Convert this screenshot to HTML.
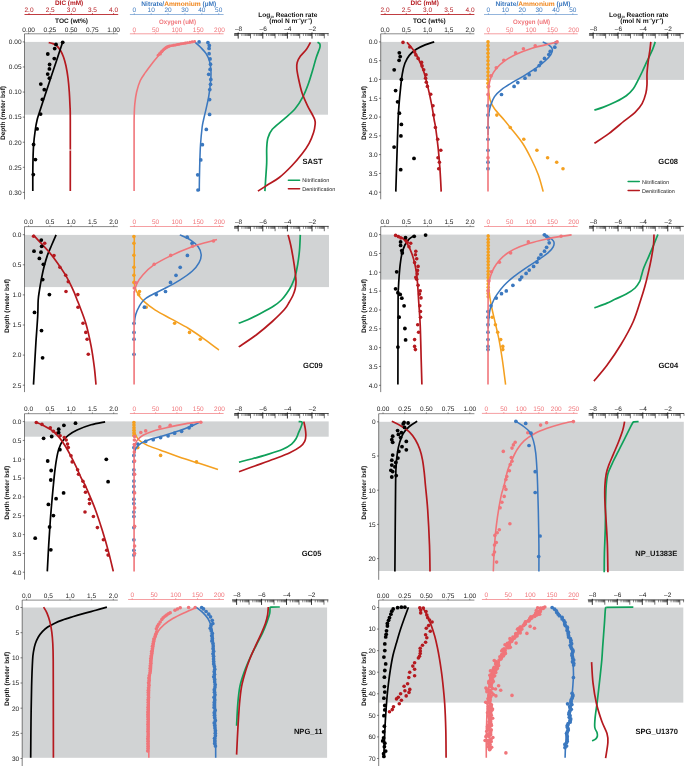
<!DOCTYPE html>
<html><head><meta charset="utf-8"><title>Figure</title>
<style>
html,body{margin:0;padding:0;background:#fff;}
body{width:685px;height:766px;overflow:hidden;}
svg{display:block;font-family:"Liberation Sans",sans-serif;will-change:transform;text-rendering:geometricPrecision;}
</style></head><body>
<svg width="685" height="766" viewBox="0 0 685 766">
<rect width="685" height="766" fill="#fff"/>
<text x="69.1" y="5.3" fill="#b5191f" font-size="6.5" text-anchor="middle" font-weight="bold" textLength="28.3" lengthAdjust="spacingAndGlyphs">DIC (mM)</text>
<line x1="24.5" y1="14.5" x2="118.2" y2="14.5" stroke="#b5191f" stroke-width="0.85"/>
<line x1="29" y1="13.2" x2="29" y2="14.5" stroke="#b5191f" stroke-width="0.85"/>
<text x="29" y="12.2" fill="#b5191f" font-size="6.5" text-anchor="middle">2.0</text>
<line x1="50.15" y1="13.2" x2="50.15" y2="14.5" stroke="#b5191f" stroke-width="0.85"/>
<text x="50.15" y="12.2" fill="#b5191f" font-size="6.5" text-anchor="middle">2.5</text>
<line x1="71.3" y1="13.2" x2="71.3" y2="14.5" stroke="#b5191f" stroke-width="0.85"/>
<text x="71.3" y="12.2" fill="#b5191f" font-size="6.5" text-anchor="middle">3.0</text>
<line x1="92.45" y1="13.2" x2="92.45" y2="14.5" stroke="#b5191f" stroke-width="0.85"/>
<text x="92.45" y="12.2" fill="#b5191f" font-size="6.5" text-anchor="middle">3.5</text>
<line x1="113.6" y1="13.2" x2="113.6" y2="14.5" stroke="#b5191f" stroke-width="0.85"/>
<text x="113.6" y="12.2" fill="#b5191f" font-size="6.5" text-anchor="middle">4.0</text>
<text x="71.5" y="23.2" fill="#111" font-size="6.5" text-anchor="middle" font-weight="bold" textLength="33" lengthAdjust="spacingAndGlyphs">TOC (wt%)</text>
<text x="178.8" y="5.6" font-size="6.5" font-weight="bold" text-anchor="middle" textLength="75" lengthAdjust="spacingAndGlyphs"><tspan fill="#3b78bf">Nitrate/</tspan><tspan fill="#ef851b">Ammonium</tspan><tspan fill="#3b78bf"> (µM)</tspan></text>
<line x1="129.9" y1="14.5" x2="223.6" y2="14.5" stroke="#3b78bf" stroke-width="0.55"/>
<line x1="134.3" y1="13.2" x2="134.3" y2="14.5" stroke="#3b78bf" stroke-width="0.55"/>
<text x="134.3" y="12.2" fill="#3b78bf" font-size="6.5" text-anchor="middle">0</text>
<line x1="151.18" y1="13.2" x2="151.18" y2="14.5" stroke="#3b78bf" stroke-width="0.55"/>
<text x="151.18" y="12.2" fill="#3b78bf" font-size="6.5" text-anchor="middle">10</text>
<line x1="168.06" y1="13.2" x2="168.06" y2="14.5" stroke="#3b78bf" stroke-width="0.55"/>
<text x="168.06" y="12.2" fill="#3b78bf" font-size="6.5" text-anchor="middle">20</text>
<line x1="184.94" y1="13.2" x2="184.94" y2="14.5" stroke="#3b78bf" stroke-width="0.55"/>
<text x="184.94" y="12.2" fill="#3b78bf" font-size="6.5" text-anchor="middle">30</text>
<line x1="201.82" y1="13.2" x2="201.82" y2="14.5" stroke="#3b78bf" stroke-width="0.55"/>
<text x="201.82" y="12.2" fill="#3b78bf" font-size="6.5" text-anchor="middle">40</text>
<line x1="218.7" y1="13.2" x2="218.7" y2="14.5" stroke="#3b78bf" stroke-width="0.55"/>
<text x="218.7" y="12.2" fill="#3b78bf" font-size="6.5" text-anchor="middle">50</text>
<text x="177.5" y="23.5" fill="#f0757a" font-size="6.5" text-anchor="middle" font-weight="bold" textLength="37" lengthAdjust="spacingAndGlyphs">Oxygen (uM)</text>
<text x="258.3" y="16.6" fill="#111" font-size="6.5" font-weight="bold" textLength="59" lengthAdjust="spacingAndGlyphs">Log<tspan font-size="3.2" dy="1.2">10</tspan><tspan dy="-1.2"> Reaction rate</tspan></text>
<text x="269.3" y="23.2" fill="#111" font-size="6.5" font-weight="bold" textLength="42.8" lengthAdjust="spacingAndGlyphs">(mol N m<tspan font-size="2.8" dy="-2.8">–3</tspan><tspan dy="2.8">yr</tspan><tspan font-size="2.8" dy="-2.8">–1</tspan><tspan dy="2.8">)</tspan></text>
<text x="424.7" y="5.3" fill="#b5191f" font-size="6.5" text-anchor="middle" font-weight="bold" textLength="28.3" lengthAdjust="spacingAndGlyphs">DIC (mM)</text>
<line x1="380.7" y1="14.5" x2="474.4" y2="14.5" stroke="#b5191f" stroke-width="0.85"/>
<line x1="385" y1="13.2" x2="385" y2="14.5" stroke="#b5191f" stroke-width="0.85"/>
<text x="385" y="12.2" fill="#b5191f" font-size="6.5" text-anchor="middle">2.0</text>
<line x1="406.25" y1="13.2" x2="406.25" y2="14.5" stroke="#b5191f" stroke-width="0.85"/>
<text x="406.25" y="12.2" fill="#b5191f" font-size="6.5" text-anchor="middle">2.5</text>
<line x1="427.5" y1="13.2" x2="427.5" y2="14.5" stroke="#b5191f" stroke-width="0.85"/>
<text x="427.5" y="12.2" fill="#b5191f" font-size="6.5" text-anchor="middle">3.0</text>
<line x1="448.75" y1="13.2" x2="448.75" y2="14.5" stroke="#b5191f" stroke-width="0.85"/>
<text x="448.75" y="12.2" fill="#b5191f" font-size="6.5" text-anchor="middle">3.5</text>
<line x1="470" y1="13.2" x2="470" y2="14.5" stroke="#b5191f" stroke-width="0.85"/>
<text x="470" y="12.2" fill="#b5191f" font-size="6.5" text-anchor="middle">4.0</text>
<text x="429.3" y="23.2" fill="#111" font-size="6.5" text-anchor="middle" font-weight="bold" textLength="32.6" lengthAdjust="spacingAndGlyphs">TOC (wt%)</text>
<text x="532.9" y="5.6" font-size="6.5" font-weight="bold" text-anchor="middle" textLength="75" lengthAdjust="spacingAndGlyphs"><tspan fill="#3b78bf">Nitrate/</tspan><tspan fill="#ef851b">Ammonium</tspan><tspan fill="#3b78bf"> (µM)</tspan></text>
<line x1="484" y1="14.5" x2="577.7" y2="14.5" stroke="#3b78bf" stroke-width="0.55"/>
<line x1="488.4" y1="13.2" x2="488.4" y2="14.5" stroke="#3b78bf" stroke-width="0.55"/>
<text x="488.4" y="12.2" fill="#3b78bf" font-size="6.5" text-anchor="middle">0</text>
<line x1="505.28" y1="13.2" x2="505.28" y2="14.5" stroke="#3b78bf" stroke-width="0.55"/>
<text x="505.28" y="12.2" fill="#3b78bf" font-size="6.5" text-anchor="middle">10</text>
<line x1="522.16" y1="13.2" x2="522.16" y2="14.5" stroke="#3b78bf" stroke-width="0.55"/>
<text x="522.16" y="12.2" fill="#3b78bf" font-size="6.5" text-anchor="middle">20</text>
<line x1="539.04" y1="13.2" x2="539.04" y2="14.5" stroke="#3b78bf" stroke-width="0.55"/>
<text x="539.04" y="12.2" fill="#3b78bf" font-size="6.5" text-anchor="middle">30</text>
<line x1="555.92" y1="13.2" x2="555.92" y2="14.5" stroke="#3b78bf" stroke-width="0.55"/>
<text x="555.92" y="12.2" fill="#3b78bf" font-size="6.5" text-anchor="middle">40</text>
<line x1="572.8" y1="13.2" x2="572.8" y2="14.5" stroke="#3b78bf" stroke-width="0.55"/>
<text x="572.8" y="12.2" fill="#3b78bf" font-size="6.5" text-anchor="middle">50</text>
<text x="531.6" y="23.5" fill="#f0757a" font-size="6.5" text-anchor="middle" font-weight="bold" textLength="37" lengthAdjust="spacingAndGlyphs">Oxygen (uM)</text>
<text x="609.1" y="16.6" fill="#111" font-size="6.5" font-weight="bold" textLength="59.3" lengthAdjust="spacingAndGlyphs">Log<tspan font-size="3.2" dy="1.2">10</tspan><tspan dy="-1.2"> Reaction rate</tspan></text>
<text x="620.2" y="23.2" fill="#111" font-size="6.5" font-weight="bold" textLength="43.3" lengthAdjust="spacingAndGlyphs">(mol N m<tspan font-size="2.8" dy="-2.8">–3</tspan><tspan dy="2.8">yr</tspan><tspan font-size="2.8" dy="-2.8">–1</tspan><tspan dy="2.8">)</tspan></text>
<rect x="24.5" y="41.9" width="303.5" height="72.8" fill="#d1d3d4"/>
<line x1="24.5" y1="33.8" x2="117.8" y2="33.8" stroke="#2a2a2a" stroke-width="0.55"/>
<line x1="28.6" y1="32.5" x2="28.6" y2="33.8" stroke="#2a2a2a" stroke-width="0.55"/>
<text x="28.6" y="31.5" fill="#1a1a1a" font-size="6.5" text-anchor="middle">0.00</text>
<line x1="49.85" y1="32.5" x2="49.85" y2="33.8" stroke="#2a2a2a" stroke-width="0.55"/>
<text x="49.85" y="31.5" fill="#1a1a1a" font-size="6.5" text-anchor="middle">0.25</text>
<line x1="71.1" y1="32.5" x2="71.1" y2="33.8" stroke="#2a2a2a" stroke-width="0.55"/>
<text x="71.1" y="31.5" fill="#1a1a1a" font-size="6.5" text-anchor="middle">0.50</text>
<line x1="92.35" y1="32.5" x2="92.35" y2="33.8" stroke="#2a2a2a" stroke-width="0.55"/>
<text x="92.35" y="31.5" fill="#1a1a1a" font-size="6.5" text-anchor="middle">0.75</text>
<line x1="113.6" y1="32.5" x2="113.6" y2="33.8" stroke="#2a2a2a" stroke-width="0.55"/>
<text x="113.6" y="31.5" fill="#1a1a1a" font-size="6.5" text-anchor="middle">1.00</text>
<line x1="129.9" y1="33.8" x2="223.6" y2="33.8" stroke="#f0757a" stroke-width="0.7"/>
<line x1="134.3" y1="32.5" x2="134.3" y2="33.8" stroke="#f0757a" stroke-width="0.7"/>
<text x="134.3" y="31.5" fill="#f0757a" font-size="6.5" text-anchor="middle">0</text>
<line x1="155.6" y1="32.5" x2="155.6" y2="33.8" stroke="#f0757a" stroke-width="0.7"/>
<text x="155.6" y="31.5" fill="#f0757a" font-size="6.5" text-anchor="middle">50</text>
<line x1="176.9" y1="32.5" x2="176.9" y2="33.8" stroke="#f0757a" stroke-width="0.7"/>
<text x="176.9" y="31.5" fill="#f0757a" font-size="6.5" text-anchor="middle">100</text>
<line x1="198.2" y1="32.5" x2="198.2" y2="33.8" stroke="#f0757a" stroke-width="0.7"/>
<text x="198.2" y="31.5" fill="#f0757a" font-size="6.5" text-anchor="middle">150</text>
<line x1="219.5" y1="32.5" x2="219.5" y2="33.8" stroke="#f0757a" stroke-width="0.7"/>
<text x="219.5" y="31.5" fill="#f0757a" font-size="6.5" text-anchor="middle">200</text>
<line x1="234.4" y1="33.6" x2="328.7" y2="33.6" stroke="#000" stroke-width="0.7"/>
<path d="M238.2 32.5v6.1M262.8 32.5v6.1M287.4 32.5v6.1M312 32.5v6.1" stroke="#000" stroke-width="0.8" fill="none"/>
<path d="M250.5 33.6v4.8M275.1 33.6v4.8M299.7 33.6v4.8M324.3 33.6v4.8" stroke="#333" stroke-width="0.7" fill="none"/>
<path d="M234.5 33.6v2.4M235.47 33.6v2.4M236.29 33.6v2.4M237.01 33.6v2.4M237.64 33.6v2.4M241.9 33.6v2.4M244.07 33.6v2.4M245.61 33.6v2.4M246.8 33.6v2.4M247.77 33.6v2.4M248.59 33.6v2.4M249.31 33.6v2.4M249.94 33.6v2.4M254.2 33.6v2.4M256.37 33.6v2.4M257.91 33.6v2.4M259.1 33.6v2.4M260.07 33.6v2.4M260.89 33.6v2.4M261.61 33.6v2.4M262.24 33.6v2.4M266.5 33.6v2.4M268.67 33.6v2.4M270.21 33.6v2.4M271.4 33.6v2.4M272.37 33.6v2.4M273.19 33.6v2.4M273.91 33.6v2.4M274.54 33.6v2.4M278.8 33.6v2.4M280.97 33.6v2.4M282.51 33.6v2.4M283.7 33.6v2.4M284.67 33.6v2.4M285.49 33.6v2.4M286.21 33.6v2.4M286.84 33.6v2.4M291.1 33.6v2.4M293.27 33.6v2.4M294.81 33.6v2.4M296 33.6v2.4M296.97 33.6v2.4M297.79 33.6v2.4M298.51 33.6v2.4M299.14 33.6v2.4M303.4 33.6v2.4M305.57 33.6v2.4M307.11 33.6v2.4M308.3 33.6v2.4M309.27 33.6v2.4M310.09 33.6v2.4M310.81 33.6v2.4M311.44 33.6v2.4M315.7 33.6v2.4M317.87 33.6v2.4M319.41 33.6v2.4M320.6 33.6v2.4M321.57 33.6v2.4M322.39 33.6v2.4M323.11 33.6v2.4M323.74 33.6v2.4M328 33.6v2.4" stroke="#111" stroke-width="0.5" fill="none"/>
<text x="238.6" y="30.8" fill="#1a1a1a" font-size="6.5" text-anchor="middle">–8</text>
<text x="263.2" y="30.8" fill="#1a1a1a" font-size="6.5" text-anchor="middle">–6</text>
<text x="287.8" y="30.8" fill="#1a1a1a" font-size="6.5" text-anchor="middle">–4</text>
<text x="312.4" y="30.8" fill="#1a1a1a" font-size="6.5" text-anchor="middle">–2</text>
<line x1="24.5" y1="33.8" x2="24.5" y2="199.3" stroke="#2a2a2a" stroke-width="0.6"/>
<line x1="22.8" y1="41.9" x2="24.5" y2="41.9" stroke="#2a2a2a" stroke-width="0.6"/>
<text x="21.5" y="44.25" fill="#1a1a1a" font-size="6.5" text-anchor="end">0.00</text>
<line x1="22.8" y1="66.98" x2="24.5" y2="66.98" stroke="#2a2a2a" stroke-width="0.6"/>
<text x="21.5" y="69.33" fill="#1a1a1a" font-size="6.5" text-anchor="end">0.05</text>
<line x1="22.8" y1="92.06" x2="24.5" y2="92.06" stroke="#2a2a2a" stroke-width="0.6"/>
<text x="21.5" y="94.41" fill="#1a1a1a" font-size="6.5" text-anchor="end">0.10</text>
<line x1="22.8" y1="117.14" x2="24.5" y2="117.14" stroke="#2a2a2a" stroke-width="0.6"/>
<text x="21.5" y="119.49" fill="#1a1a1a" font-size="6.5" text-anchor="end">0.15</text>
<line x1="22.8" y1="142.22" x2="24.5" y2="142.22" stroke="#2a2a2a" stroke-width="0.6"/>
<text x="21.5" y="144.57" fill="#1a1a1a" font-size="6.5" text-anchor="end">0.20</text>
<line x1="22.8" y1="167.3" x2="24.5" y2="167.3" stroke="#2a2a2a" stroke-width="0.6"/>
<text x="21.5" y="169.65" fill="#1a1a1a" font-size="6.5" text-anchor="end">0.25</text>
<line x1="22.8" y1="192.38" x2="24.5" y2="192.38" stroke="#2a2a2a" stroke-width="0.6"/>
<text x="21.5" y="194.73" fill="#1a1a1a" font-size="6.5" text-anchor="end">0.30</text>
<text transform="translate(5.2 113) rotate(-90)" fill="#111" font-size="6.5" font-weight="bold" text-anchor="middle" textLength="54" lengthAdjust="spacingAndGlyphs">Depth (meter bsf)</text>
<path d="M48.7 42.6C49.42 42.77 51.62 43.03 53 43.6C54.38 44.17 55.75 44.85 57 46C58.25 47.15 59.42 48.67 60.5 50.5C61.58 52.33 62.58 54.42 63.5 57C64.42 59.58 65.25 62.5 66 66C66.75 69.5 67.45 73.67 68 78C68.55 82.33 68.97 87.33 69.3 92C69.63 96.67 69.83 101.33 70 106C70.17 110.67 70.25 105.83 70.3 120C70.35 134.17 70.3 179.17 70.3 191" fill="none" stroke="#b5191f" stroke-width="1.7" stroke-linecap="butt" stroke-linejoin="round"/>
<rect x="69" y="149.6" width="2.6" height="0.9" fill="#fff"/>
<path d="M62.7 41.9C61.6 45.25 58.32 55.32 56.1 62C53.88 68.68 51.62 75.33 49.4 82C47.18 88.67 44.5 96.83 42.8 102C41.1 107.17 40.15 110 39.2 113C38.25 116 37.73 117.33 37.1 120C36.47 122.67 35.98 124.83 35.4 129C34.82 133.17 34 139.83 33.6 145C33.2 150.17 33.13 155 33 160C32.87 165 32.83 169.83 32.8 175C32.77 180.17 32.8 188.33 32.8 191" fill="none" stroke="#000" stroke-width="1.7" stroke-linecap="butt" stroke-linejoin="round"/>
<g fill="#000"><circle cx="62.7" cy="42.3" r="1.9"/><circle cx="56" cy="44.4" r="1.9"/><circle cx="54.7" cy="48.6" r="1.9"/><circle cx="47.8" cy="54" r="1.9"/><circle cx="54.3" cy="58.6" r="1.9"/><circle cx="49.6" cy="64.5" r="1.9"/><circle cx="49.4" cy="68.9" r="1.9"/><circle cx="47.7" cy="74.1" r="1.9"/><circle cx="49.4" cy="78.2" r="1.9"/><circle cx="40.8" cy="84.1" r="1.9"/><circle cx="44.3" cy="89.7" r="1.9"/><circle cx="42.4" cy="99.4" r="1.9"/><circle cx="40.6" cy="114.1" r="1.9"/><circle cx="37.1" cy="128.9" r="1.9"/><circle cx="33.6" cy="144.5" r="1.9"/><circle cx="35.4" cy="159.6" r="1.9"/><circle cx="33.3" cy="174.6" r="1.9"/></g>
<path d="M194.7 41.9C195.72 42.83 198.9 45.53 200.8 47.5C202.7 49.47 204.63 51.37 206.1 53.7C207.57 56.03 208.78 58.45 209.6 61.5C210.42 64.55 210.85 68.48 211 72C211.15 75.52 210.88 78.5 210.5 82.6C210.12 86.7 209.43 92.23 208.7 96.6C207.97 100.97 206.97 104.9 206.1 108.8C205.23 112.7 204.17 116.88 203.5 120C202.83 123.12 202.6 123.33 202.1 127.5C201.6 131.67 200.88 139.15 200.5 145C200.12 150.85 199.98 156.77 199.8 162.6C199.62 168.43 199.48 175.28 199.4 180C199.32 184.72 199.32 189.08 199.3 190.9" fill="none" stroke="#3b78bf" stroke-width="1.55" stroke-linecap="butt" stroke-linejoin="round"/>
<g fill="#3b78bf"><circle cx="199.1" cy="41.9" r="1.85"/><circle cx="207.9" cy="42.6" r="1.85"/><circle cx="209.3" cy="45.4" r="1.85"/><circle cx="209.1" cy="48.4" r="1.85"/><circle cx="209.1" cy="53.7" r="1.85"/><circle cx="210.1" cy="58.9" r="1.85"/><circle cx="210.5" cy="64.2" r="1.85"/><circle cx="210.1" cy="69.4" r="1.85"/><circle cx="208.7" cy="74.3" r="1.85"/><circle cx="210.8" cy="79.4" r="1.85"/><circle cx="210.5" cy="84.3" r="1.85"/><circle cx="209.8" cy="89.6" r="1.85"/><circle cx="209.6" cy="99.6" r="1.85"/><circle cx="209.6" cy="114.4" r="1.85"/><circle cx="206.3" cy="129.4" r="1.85"/><circle cx="202.4" cy="144.7" r="1.85"/><circle cx="200.8" cy="159.9" r="1.85"/><circle cx="197.7" cy="174.8" r="1.85"/><circle cx="198" cy="190" r="1.85"/></g>
<path d="M195.1 42C193.92 42.2 190.23 42.82 188 43.2C185.77 43.58 183.72 43.92 181.7 44.3C179.68 44.68 177.85 45.12 175.9 45.5C173.95 45.88 171.95 45.85 170 46.6C168.05 47.35 166.33 48.23 164.2 50C162.07 51.77 159.15 55.03 157.2 57.2C155.25 59.37 154.45 60.47 152.5 63C150.55 65.53 147.53 69.48 145.5 72.4C143.47 75.32 141.78 77.23 140.3 80.5C138.82 83.77 137.52 88.08 136.6 92C135.68 95.92 135.2 100 134.8 104C134.4 108 134.32 111.67 134.2 116C134.08 120.33 134.12 117.52 134.1 130C134.08 142.48 134.1 180.75 134.1 190.9" fill="none" stroke="#f0757a" stroke-width="1.6" stroke-linecap="butt" stroke-linejoin="round"/>
<g fill="#f0757a"><circle cx="194.6" cy="41.4" r="1.45"/><circle cx="192.26" cy="41.8" r="1.45"/><circle cx="189.91" cy="42.19" r="1.45"/><circle cx="187.5" cy="42.6" r="1.45"/><circle cx="185.42" cy="42.96" r="1.45"/><circle cx="183.34" cy="43.33" r="1.45"/><circle cx="181.2" cy="43.7" r="1.45"/><circle cx="179.29" cy="44.1" r="1.45"/><circle cx="177.37" cy="44.49" r="1.45"/><circle cx="175.4" cy="44.9" r="1.45"/><circle cx="173.45" cy="45.26" r="1.45"/><circle cx="171.51" cy="45.63" r="1.45"/><circle cx="169.5" cy="46" r="1.45"/><circle cx="168.51" cy="46.36" r="1.45"/><circle cx="167.52" cy="46.73" r="1.45"/><circle cx="166.5" cy="47.1" r="1.45"/><circle cx="165.58" cy="47.86" r="1.45"/><circle cx="164.65" cy="48.62" r="1.45"/><circle cx="163.7" cy="49.4" r="1.45"/><circle cx="162.74" cy="50.39" r="1.45"/><circle cx="161.79" cy="51.38" r="1.45"/><circle cx="160.8" cy="52.4" r="1.45"/><circle cx="159.45" cy="53.79" r="1.45"/><circle cx="158.09" cy="55.17" r="1.45"/></g>
<g fill="#f0757a"><circle cx="160.3" cy="54" r="1.6"/><circle cx="161.8" cy="51.6" r="1.6"/></g>
<path d="M317.5 42.3C317.85 42.52 319.17 43.07 319.6 43.6C320.03 44.13 320.1 44.7 320.1 45.5C320.1 46.3 320.27 46.32 319.6 48.4C318.93 50.48 317.27 54.35 316.1 58C314.93 61.65 313.92 65.92 312.6 70.3C311.28 74.68 309.8 79.92 308.2 84.3C306.6 88.68 305.18 92.52 303 96.6C300.82 100.68 298.32 105.02 295.1 108.8C291.88 112.58 287.5 115.88 283.7 119.3C279.9 122.72 274.93 126.18 272.3 129.3C269.67 132.42 268.83 134.8 267.9 138C266.97 141.2 266.9 144.4 266.7 148.5C266.5 152.6 266.88 157.35 266.7 162.6C266.52 167.85 265.9 175.25 265.6 180C265.3 184.75 265.02 189.25 264.9 191.1" fill="none" stroke="#0fa05a" stroke-width="1.7" stroke-linecap="butt" stroke-linejoin="round"/>
<path d="M310.5 42.3C309.83 43.47 308.2 46.97 306.5 49.3C304.8 51.63 301.85 54.12 300.3 56.3C298.75 58.48 297.78 60.37 297.2 62.4C296.62 64.43 296.57 65.73 296.8 68.5C297.03 71.27 297.72 74.9 298.6 79C299.48 83.1 300.65 88.72 302.1 93.1C303.55 97.48 305.6 101.73 307.3 105.3C309 108.87 311.07 112.13 312.3 114.5C313.53 116.87 314.22 117.92 314.7 119.5C315.18 121.08 315.4 121.78 315.2 124C315 126.22 314.52 129.58 313.5 132.8C312.48 136.02 311 139.8 309.1 143.3C307.2 146.8 305.02 150.02 302.1 153.8C299.18 157.58 295.4 162.05 291.6 166C287.8 169.95 283.4 174.28 279.3 177.5C275.2 180.72 270.57 183.03 267 185.3C263.43 187.57 259.42 190.13 257.9 191.1" fill="none" stroke="#b5191f" stroke-width="1.7" stroke-linecap="butt" stroke-linejoin="round"/>
<text x="312.5" y="164" fill="#111" font-size="7.55" text-anchor="middle" font-weight="bold">SAST</text>
<line x1="288.4" y1="180.3" x2="299.6" y2="180.3" stroke="#0fa05a" stroke-width="1.5" stroke-linecap="round"/>
<line x1="288.4" y1="188.7" x2="299.6" y2="188.7" stroke="#b5191f" stroke-width="1.5" stroke-linecap="round"/>
<text x="302.3" y="182.15" fill="#222" font-size="5.4" text-anchor="start" textLength="27" lengthAdjust="spacingAndGlyphs">Nitrification</text>
<text x="302.3" y="190.55" fill="#222" font-size="5.4" text-anchor="start" textLength="32.9" lengthAdjust="spacingAndGlyphs">Denitrification</text>
<rect x="380.7" y="41.9" width="303.3" height="38" fill="#d1d3d4"/>
<line x1="380.7" y1="33.8" x2="474.4" y2="33.8" stroke="#2a2a2a" stroke-width="0.55"/>
<line x1="385" y1="32.5" x2="385" y2="33.8" stroke="#2a2a2a" stroke-width="0.55"/>
<text x="385" y="31.5" fill="#1a1a1a" font-size="6.5" text-anchor="middle">0.0</text>
<line x1="406.25" y1="32.5" x2="406.25" y2="33.8" stroke="#2a2a2a" stroke-width="0.55"/>
<text x="406.25" y="31.5" fill="#1a1a1a" font-size="6.5" text-anchor="middle">0.5</text>
<line x1="427.5" y1="32.5" x2="427.5" y2="33.8" stroke="#2a2a2a" stroke-width="0.55"/>
<text x="427.5" y="31.5" fill="#1a1a1a" font-size="6.5" text-anchor="middle">1.0</text>
<line x1="448.75" y1="32.5" x2="448.75" y2="33.8" stroke="#2a2a2a" stroke-width="0.55"/>
<text x="448.75" y="31.5" fill="#1a1a1a" font-size="6.5" text-anchor="middle">1.5</text>
<line x1="470" y1="32.5" x2="470" y2="33.8" stroke="#2a2a2a" stroke-width="0.55"/>
<text x="470" y="31.5" fill="#1a1a1a" font-size="6.5" text-anchor="middle">2.0</text>
<line x1="484" y1="33.8" x2="577.7" y2="33.8" stroke="#f0757a" stroke-width="0.7"/>
<line x1="488.4" y1="32.5" x2="488.4" y2="33.8" stroke="#f0757a" stroke-width="0.7"/>
<text x="488.4" y="31.5" fill="#f0757a" font-size="6.5" text-anchor="middle">0</text>
<line x1="509.7" y1="32.5" x2="509.7" y2="33.8" stroke="#f0757a" stroke-width="0.7"/>
<text x="509.7" y="31.5" fill="#f0757a" font-size="6.5" text-anchor="middle">50</text>
<line x1="531.05" y1="32.5" x2="531.05" y2="33.8" stroke="#f0757a" stroke-width="0.7"/>
<text x="531.05" y="31.5" fill="#f0757a" font-size="6.5" text-anchor="middle">100</text>
<line x1="552.4" y1="32.5" x2="552.4" y2="33.8" stroke="#f0757a" stroke-width="0.7"/>
<text x="552.4" y="31.5" fill="#f0757a" font-size="6.5" text-anchor="middle">150</text>
<line x1="573.7" y1="32.5" x2="573.7" y2="33.8" stroke="#f0757a" stroke-width="0.7"/>
<text x="573.7" y="31.5" fill="#f0757a" font-size="6.5" text-anchor="middle">200</text>
<line x1="589.2" y1="33.6" x2="683.8" y2="33.6" stroke="#000" stroke-width="0.7"/>
<path d="M593.2 32.5v6.1M618.06 32.5v6.1M642.92 32.5v6.1M667.78 32.5v6.1" stroke="#000" stroke-width="0.8" fill="none"/>
<path d="M605.63 33.6v4.8M630.49 33.6v4.8M655.35 33.6v4.8M680.21 33.6v4.8" stroke="#333" stroke-width="0.7" fill="none"/>
<path d="M589.46 33.6v2.4M590.44 33.6v2.4M591.27 33.6v2.4M592 33.6v2.4M592.63 33.6v2.4M596.94 33.6v2.4M599.13 33.6v2.4M600.68 33.6v2.4M601.89 33.6v2.4M602.87 33.6v2.4M603.7 33.6v2.4M604.43 33.6v2.4M605.06 33.6v2.4M609.37 33.6v2.4M611.56 33.6v2.4M613.11 33.6v2.4M614.32 33.6v2.4M615.3 33.6v2.4M616.13 33.6v2.4M616.86 33.6v2.4M617.49 33.6v2.4M621.8 33.6v2.4M623.99 33.6v2.4M625.54 33.6v2.4M626.75 33.6v2.4M627.73 33.6v2.4M628.56 33.6v2.4M629.29 33.6v2.4M629.92 33.6v2.4M634.23 33.6v2.4M636.42 33.6v2.4M637.97 33.6v2.4M639.18 33.6v2.4M640.16 33.6v2.4M640.99 33.6v2.4M641.72 33.6v2.4M642.35 33.6v2.4M646.66 33.6v2.4M648.85 33.6v2.4M650.4 33.6v2.4M651.61 33.6v2.4M652.59 33.6v2.4M653.42 33.6v2.4M654.15 33.6v2.4M654.78 33.6v2.4M659.09 33.6v2.4M661.28 33.6v2.4M662.83 33.6v2.4M664.04 33.6v2.4M665.02 33.6v2.4M665.85 33.6v2.4M666.58 33.6v2.4M667.21 33.6v2.4M671.52 33.6v2.4M673.71 33.6v2.4M675.26 33.6v2.4M676.47 33.6v2.4M677.45 33.6v2.4M678.28 33.6v2.4M679.01 33.6v2.4M679.64 33.6v2.4" stroke="#111" stroke-width="0.5" fill="none"/>
<text x="593.6" y="30.8" fill="#1a1a1a" font-size="6.5" text-anchor="middle">–8</text>
<text x="618.46" y="30.8" fill="#1a1a1a" font-size="6.5" text-anchor="middle">–6</text>
<text x="643.32" y="30.8" fill="#1a1a1a" font-size="6.5" text-anchor="middle">–4</text>
<text x="668.18" y="30.8" fill="#1a1a1a" font-size="6.5" text-anchor="middle">–2</text>
<line x1="380.7" y1="33.8" x2="380.7" y2="199.3" stroke="#2a2a2a" stroke-width="0.6"/>
<line x1="379" y1="41.9" x2="380.7" y2="41.9" stroke="#2a2a2a" stroke-width="0.6"/>
<text x="377.7" y="44.25" fill="#1a1a1a" font-size="6.5" text-anchor="end">0.0</text>
<line x1="379" y1="60.69" x2="380.7" y2="60.69" stroke="#2a2a2a" stroke-width="0.6"/>
<text x="377.7" y="63.04" fill="#1a1a1a" font-size="6.5" text-anchor="end">0.5</text>
<line x1="379" y1="79.48" x2="380.7" y2="79.48" stroke="#2a2a2a" stroke-width="0.6"/>
<text x="377.7" y="81.83" fill="#1a1a1a" font-size="6.5" text-anchor="end">1.0</text>
<line x1="379" y1="98.27" x2="380.7" y2="98.27" stroke="#2a2a2a" stroke-width="0.6"/>
<text x="377.7" y="100.62" fill="#1a1a1a" font-size="6.5" text-anchor="end">1.5</text>
<line x1="379" y1="117.06" x2="380.7" y2="117.06" stroke="#2a2a2a" stroke-width="0.6"/>
<text x="377.7" y="119.41" fill="#1a1a1a" font-size="6.5" text-anchor="end">2.0</text>
<line x1="379" y1="135.85" x2="380.7" y2="135.85" stroke="#2a2a2a" stroke-width="0.6"/>
<text x="377.7" y="138.2" fill="#1a1a1a" font-size="6.5" text-anchor="end">2.5</text>
<line x1="379" y1="154.64" x2="380.7" y2="154.64" stroke="#2a2a2a" stroke-width="0.6"/>
<text x="377.7" y="156.99" fill="#1a1a1a" font-size="6.5" text-anchor="end">3.0</text>
<line x1="379" y1="173.43" x2="380.7" y2="173.43" stroke="#2a2a2a" stroke-width="0.6"/>
<text x="377.7" y="175.78" fill="#1a1a1a" font-size="6.5" text-anchor="end">3.5</text>
<line x1="379" y1="192.22" x2="380.7" y2="192.22" stroke="#2a2a2a" stroke-width="0.6"/>
<text x="377.7" y="194.57" fill="#1a1a1a" font-size="6.5" text-anchor="end">4.0</text>
<text transform="translate(365.6 113) rotate(-90)" fill="#111" font-size="6.5" font-weight="bold" text-anchor="middle" textLength="54" lengthAdjust="spacingAndGlyphs">Depth (meter bsf)</text>
<path d="M434.2 41.9C432.68 42.4 428.08 43.67 425.1 44.9C422.12 46.13 418.93 47.55 416.3 49.3C413.67 51.05 411.2 53.07 409.3 55.4C407.4 57.73 406.07 60.23 404.9 63.3C403.73 66.37 403.02 69.72 402.3 73.8C401.58 77.88 401.13 82.83 400.6 87.8C400.07 92.77 399.52 98.23 399.1 103.6C398.68 108.97 398.45 111.63 398.1 120C397.75 128.37 397.38 141.87 397 153.8C396.62 165.73 396 185.3 395.8 191.6" fill="none" stroke="#000" stroke-width="1.7" stroke-linecap="butt" stroke-linejoin="round"/>
<path d="M407 42.3C407.97 43.47 410.95 46.68 412.8 49.3C414.65 51.92 416.35 54.5 418.1 58C419.85 61.5 421.85 66.2 423.3 70.3C424.75 74.4 425.68 78.22 426.8 82.6C427.92 86.98 429.07 92.23 430 96.6C430.93 100.97 431.7 104.9 432.4 108.8C433.1 112.7 433.67 116.88 434.2 120C434.73 123.12 434.93 122.75 435.6 127.5C436.27 132.25 437.47 141.48 438.2 148.5C438.93 155.52 439.5 162.42 440 169.6C440.5 176.78 441 187.93 441.2 191.6" fill="none" stroke="#b5191f" stroke-width="1.7" stroke-linecap="butt" stroke-linejoin="round"/>
<g fill="#b5191f"><circle cx="403" cy="42.4" r="1.8"/><circle cx="409.8" cy="47" r="1.8"/><circle cx="414.6" cy="51.9" r="1.8"/><circle cx="415.8" cy="54.9" r="1.8"/><circle cx="418.1" cy="58.4" r="1.8"/><circle cx="421.6" cy="62.4" r="1.8"/><circle cx="422.1" cy="65.9" r="1.8"/><circle cx="423.7" cy="69.8" r="1.8"/><circle cx="426" cy="74.7" r="1.8"/><circle cx="425.6" cy="78.2" r="1.8"/><circle cx="426.3" cy="82.2" r="1.8"/><circle cx="427.4" cy="86.4" r="1.8"/><circle cx="430.7" cy="94.3" r="1.8"/><circle cx="433" cy="105.7" r="1.8"/><circle cx="433.7" cy="115.1" r="1.8"/><circle cx="435.4" cy="127.5" r="1.8"/><circle cx="437.7" cy="139.3" r="1.8"/><circle cx="440.8" cy="150.3" r="1.8"/><circle cx="438" cy="157.7" r="1.8"/><circle cx="439.4" cy="162.2" r="1.8"/><circle cx="438.7" cy="168.7" r="1.8"/></g>
<g fill="#000"><circle cx="399.3" cy="52.8" r="1.9"/><circle cx="400.2" cy="56.6" r="1.9"/><circle cx="399.1" cy="60.3" r="1.9"/><circle cx="394.2" cy="69.8" r="1.9"/><circle cx="401.4" cy="79.4" r="1.9"/><circle cx="395.6" cy="90.6" r="1.9"/><circle cx="397.6" cy="101.8" r="1.9"/><circle cx="399.4" cy="113.2" r="1.9"/><circle cx="401.4" cy="124.4" r="1.9"/><circle cx="400.9" cy="135.9" r="1.9"/><circle cx="394.1" cy="147.1" r="1.9"/><circle cx="414" cy="158.4" r="1.9"/><circle cx="400.7" cy="169.7" r="1.9"/></g>
<g fill="#f4a020"><circle cx="488" cy="41.9" r="1.8"/><circle cx="488" cy="45.66" r="1.8"/><circle cx="488" cy="49.42" r="1.8"/><circle cx="488" cy="53.18" r="1.8"/><circle cx="488" cy="56.94" r="1.8"/><circle cx="488" cy="60.7" r="1.8"/><circle cx="488" cy="64.46" r="1.8"/><circle cx="488" cy="68.22" r="1.8"/><circle cx="488" cy="71.98" r="1.8"/><circle cx="488" cy="75.74" r="1.8"/><circle cx="488" cy="79.5" r="1.8"/><circle cx="488" cy="83.26" r="1.8"/><circle cx="488" cy="87.02" r="1.8"/></g>
<path d="M488.2 41.9C488.2 48.25 488.17 72.35 488.2 80C488.23 87.65 488.08 84.47 488.4 87.8C488.72 91.13 489.08 96.5 490.1 100C491.12 103.5 492.15 105.47 494.5 108.8C496.85 112.13 501.57 116.88 504.2 120C506.83 123.12 507.23 123.62 510.3 127.5C513.37 131.38 519.1 138.05 522.6 143.3C526.1 148.55 528.68 153.75 531.3 159C533.92 164.25 536.32 169.37 538.3 174.8C540.28 180.23 542.38 188.8 543.2 191.6" fill="none" stroke="#f4a020" stroke-width="1.55" stroke-linecap="butt" stroke-linejoin="round"/>
<g fill="#f4a020"><circle cx="496.8" cy="115.1" r="1.8"/><circle cx="510.3" cy="127.5" r="1.8"/><circle cx="523.8" cy="139.3" r="1.8"/><circle cx="536.9" cy="150.3" r="1.8"/><circle cx="547.6" cy="157.7" r="1.8"/><circle cx="556.7" cy="162.2" r="1.8"/><circle cx="563" cy="168.7" r="1.8"/></g>
<path d="M542.7 41.9C543.72 42.4 547.2 43.67 548.8 44.9C550.4 46.13 551.95 47.7 552.3 49.3C552.65 50.9 552.07 52.6 550.9 54.5C549.73 56.4 547.68 58.5 545.3 60.7C542.92 62.9 540.1 65.22 536.6 67.7C533.1 70.18 528.4 73.12 524.3 75.6C520.2 78.08 515.8 80.27 512 82.6C508.2 84.93 504.42 87.27 501.5 89.6C498.58 91.93 496.3 93.98 494.5 96.6C492.7 99.22 491.67 102.4 490.7 105.3C489.73 108.2 489.12 111.55 488.7 114C488.28 116.45 488.3 116.5 488.2 120C488.1 123.5 488.12 132.5 488.1 135" fill="none" stroke="#3b78bf" stroke-width="1.55" stroke-linecap="butt" stroke-linejoin="round"/>
<g fill="#3b78bf"><circle cx="555.8" cy="42.8" r="1.85"/><circle cx="554.8" cy="47.2" r="1.85"/><circle cx="550.2" cy="51.4" r="1.85"/><circle cx="548.8" cy="54.5" r="1.85"/><circle cx="544.5" cy="58.4" r="1.85"/><circle cx="541" cy="62.4" r="1.85"/><circle cx="539.2" cy="65.6" r="1.85"/><circle cx="535.2" cy="69.9" r="1.85"/><circle cx="529.2" cy="74.7" r="1.85"/><circle cx="525" cy="78.2" r="1.85"/><circle cx="517.8" cy="82.6" r="1.85"/><circle cx="514.1" cy="86.4" r="1.85"/><circle cx="501.5" cy="94.5" r="1.85"/><circle cx="488" cy="105.7" r="1.85"/><circle cx="488" cy="115.1" r="1.85"/><circle cx="488" cy="127.5" r="1.85"/><circle cx="488" cy="139.3" r="1.85"/><circle cx="488" cy="150.3" r="1.85"/><circle cx="488" cy="162.2" r="1.85"/><circle cx="488" cy="168.7" r="1.85"/></g>
<path d="M557.6 41.9C555.55 42.4 549.68 43.82 545.3 44.9C540.92 45.98 536.25 46.8 531.3 48.4C526.35 50 519.98 52.45 515.6 54.5C511.22 56.55 508.22 58.37 505 60.7C501.78 63.03 498.63 65.73 496.3 68.5C493.97 71.27 492.28 74.08 491 77.3C489.72 80.52 489.08 84.02 488.6 87.8C488.12 91.58 488.2 94.63 488.1 100C488 105.37 488.02 104.73 488 120C487.98 135.27 488 179.67 488 191.6" fill="none" stroke="#f0757a" stroke-width="1.6" stroke-linecap="butt" stroke-linejoin="round"/>
<g fill="#f0757a"><circle cx="557.1" cy="41.9" r="1.8"/><circle cx="535.2" cy="45.8" r="1.8"/><circle cx="523.4" cy="48.7" r="1.8"/><circle cx="515.6" cy="52.8" r="1.8"/><circle cx="503.8" cy="60.3" r="1.8"/><circle cx="496.3" cy="67.8" r="1.8"/><circle cx="491" cy="75.9" r="1.8"/><circle cx="488.7" cy="86.4" r="1.8"/><circle cx="488" cy="94.5" r="1.8"/><circle cx="488" cy="157.7" r="1.8"/></g>
<path d="M655.2 41.9C654.77 43.13 653.92 46.17 652.6 49.3C651.28 52.43 649.05 56.92 647.3 60.7C645.55 64.48 643.7 68.65 642.1 72C640.5 75.35 639.17 78.02 637.7 80.8C636.23 83.58 635.2 86.22 633.3 88.7C631.4 91.18 629.22 93.52 626.3 95.7C623.38 97.88 619.6 99.9 615.8 101.8C612 103.7 607.07 105.72 603.5 107.1C599.93 108.48 595.92 109.6 594.4 110.1" fill="none" stroke="#0fa05a" stroke-width="1.7" stroke-linecap="butt" stroke-linejoin="round"/>
<path d="M650.8 41.9C650.67 43.13 650.43 46.03 650 49.3C649.57 52.57 648.7 57.42 648.2 61.5C647.7 65.58 647.2 70 647 73.8C646.8 77.6 647.18 81.08 647 84.3C646.82 87.52 646.72 89.88 645.9 93.1C645.08 96.32 643.9 100.4 642.1 103.6C640.3 106.8 638.12 109.37 635.1 112.3C632.08 115.23 628.38 117.65 624 121.2C619.62 124.75 613.73 129.92 608.8 133.6C603.87 137.28 596.8 141.68 594.4 143.3" fill="none" stroke="#b5191f" stroke-width="1.7" stroke-linecap="butt" stroke-linejoin="round"/>
<text x="668.2" y="164" fill="#111" font-size="7.55" text-anchor="middle" font-weight="bold">GC08</text>
<line x1="628.1" y1="181.5" x2="639.3" y2="181.5" stroke="#0fa05a" stroke-width="1.5" stroke-linecap="round"/>
<line x1="628.1" y1="190.5" x2="639.3" y2="190.5" stroke="#b5191f" stroke-width="1.5" stroke-linecap="round"/>
<text x="642" y="183.7" fill="#222" font-size="5.4" text-anchor="start" textLength="27" lengthAdjust="spacingAndGlyphs">Nitrification</text>
<text x="642" y="192.7" fill="#222" font-size="5.4" text-anchor="start" textLength="32.9" lengthAdjust="spacingAndGlyphs">Denitrification</text>
<rect x="24.5" y="234.9" width="304.5" height="52.2" fill="#d1d3d4"/>
<line x1="24.5" y1="226.6" x2="117.8" y2="226.6" stroke="#2a2a2a" stroke-width="0.55"/>
<line x1="28.6" y1="225.3" x2="28.6" y2="226.6" stroke="#2a2a2a" stroke-width="0.55"/>
<text x="28.6" y="224.3" fill="#1a1a1a" font-size="6.5" text-anchor="middle">0.0</text>
<line x1="49.9" y1="225.3" x2="49.9" y2="226.6" stroke="#2a2a2a" stroke-width="0.55"/>
<text x="49.9" y="224.3" fill="#1a1a1a" font-size="6.5" text-anchor="middle">0.5</text>
<line x1="71.1" y1="225.3" x2="71.1" y2="226.6" stroke="#2a2a2a" stroke-width="0.55"/>
<text x="71.1" y="224.3" fill="#1a1a1a" font-size="6.5" text-anchor="middle">1.0</text>
<line x1="92.4" y1="225.3" x2="92.4" y2="226.6" stroke="#2a2a2a" stroke-width="0.55"/>
<text x="92.4" y="224.3" fill="#1a1a1a" font-size="6.5" text-anchor="middle">1.5</text>
<line x1="113.7" y1="225.3" x2="113.7" y2="226.6" stroke="#2a2a2a" stroke-width="0.55"/>
<text x="113.7" y="224.3" fill="#1a1a1a" font-size="6.5" text-anchor="middle">2.0</text>
<line x1="129.9" y1="226.5" x2="223.6" y2="226.5" stroke="#f0757a" stroke-width="0.7"/>
<line x1="134.3" y1="225.2" x2="134.3" y2="226.5" stroke="#f0757a" stroke-width="0.7"/>
<text x="134.3" y="224.2" fill="#f0757a" font-size="6.5" text-anchor="middle">0</text>
<line x1="155.6" y1="225.2" x2="155.6" y2="226.5" stroke="#f0757a" stroke-width="0.7"/>
<text x="155.6" y="224.2" fill="#f0757a" font-size="6.5" text-anchor="middle">50</text>
<line x1="176.9" y1="225.2" x2="176.9" y2="226.5" stroke="#f0757a" stroke-width="0.7"/>
<text x="176.9" y="224.2" fill="#f0757a" font-size="6.5" text-anchor="middle">100</text>
<line x1="198.2" y1="225.2" x2="198.2" y2="226.5" stroke="#f0757a" stroke-width="0.7"/>
<text x="198.2" y="224.2" fill="#f0757a" font-size="6.5" text-anchor="middle">150</text>
<line x1="219.5" y1="225.2" x2="219.5" y2="226.5" stroke="#f0757a" stroke-width="0.7"/>
<text x="219.5" y="224.2" fill="#f0757a" font-size="6.5" text-anchor="middle">200</text>
<line x1="234.4" y1="226.4" x2="328.7" y2="226.4" stroke="#000" stroke-width="0.7"/>
<path d="M238.2 225.3v6.1M262.8 225.3v6.1M287.4 225.3v6.1M312 225.3v6.1" stroke="#000" stroke-width="0.8" fill="none"/>
<path d="M250.5 226.4v4.8M275.1 226.4v4.8M299.7 226.4v4.8M324.3 226.4v4.8" stroke="#333" stroke-width="0.7" fill="none"/>
<path d="M234.5 226.4v2.4M235.47 226.4v2.4M236.29 226.4v2.4M237.01 226.4v2.4M237.64 226.4v2.4M241.9 226.4v2.4M244.07 226.4v2.4M245.61 226.4v2.4M246.8 226.4v2.4M247.77 226.4v2.4M248.59 226.4v2.4M249.31 226.4v2.4M249.94 226.4v2.4M254.2 226.4v2.4M256.37 226.4v2.4M257.91 226.4v2.4M259.1 226.4v2.4M260.07 226.4v2.4M260.89 226.4v2.4M261.61 226.4v2.4M262.24 226.4v2.4M266.5 226.4v2.4M268.67 226.4v2.4M270.21 226.4v2.4M271.4 226.4v2.4M272.37 226.4v2.4M273.19 226.4v2.4M273.91 226.4v2.4M274.54 226.4v2.4M278.8 226.4v2.4M280.97 226.4v2.4M282.51 226.4v2.4M283.7 226.4v2.4M284.67 226.4v2.4M285.49 226.4v2.4M286.21 226.4v2.4M286.84 226.4v2.4M291.1 226.4v2.4M293.27 226.4v2.4M294.81 226.4v2.4M296 226.4v2.4M296.97 226.4v2.4M297.79 226.4v2.4M298.51 226.4v2.4M299.14 226.4v2.4M303.4 226.4v2.4M305.57 226.4v2.4M307.11 226.4v2.4M308.3 226.4v2.4M309.27 226.4v2.4M310.09 226.4v2.4M310.81 226.4v2.4M311.44 226.4v2.4M315.7 226.4v2.4M317.87 226.4v2.4M319.41 226.4v2.4M320.6 226.4v2.4M321.57 226.4v2.4M322.39 226.4v2.4M323.11 226.4v2.4M323.74 226.4v2.4M328 226.4v2.4" stroke="#111" stroke-width="0.5" fill="none"/>
<text x="238.6" y="223.6" fill="#1a1a1a" font-size="6.5" text-anchor="middle">–8</text>
<text x="263.2" y="223.6" fill="#1a1a1a" font-size="6.5" text-anchor="middle">–6</text>
<text x="287.8" y="223.6" fill="#1a1a1a" font-size="6.5" text-anchor="middle">–4</text>
<text x="312.4" y="223.6" fill="#1a1a1a" font-size="6.5" text-anchor="middle">–2</text>
<line x1="24.5" y1="226.6" x2="24.5" y2="392.1" stroke="#2a2a2a" stroke-width="0.6"/>
<line x1="22.8" y1="234.7" x2="24.5" y2="234.7" stroke="#2a2a2a" stroke-width="0.6"/>
<text x="21.5" y="237.05" fill="#1a1a1a" font-size="6.5" text-anchor="end">0.0</text>
<line x1="22.8" y1="264.8" x2="24.5" y2="264.8" stroke="#2a2a2a" stroke-width="0.6"/>
<text x="21.5" y="267.15" fill="#1a1a1a" font-size="6.5" text-anchor="end">0.5</text>
<line x1="22.8" y1="294.9" x2="24.5" y2="294.9" stroke="#2a2a2a" stroke-width="0.6"/>
<text x="21.5" y="297.25" fill="#1a1a1a" font-size="6.5" text-anchor="end">1.0</text>
<line x1="22.8" y1="325" x2="24.5" y2="325" stroke="#2a2a2a" stroke-width="0.6"/>
<text x="21.5" y="327.35" fill="#1a1a1a" font-size="6.5" text-anchor="end">1.5</text>
<line x1="22.8" y1="355.1" x2="24.5" y2="355.1" stroke="#2a2a2a" stroke-width="0.6"/>
<text x="21.5" y="357.45" fill="#1a1a1a" font-size="6.5" text-anchor="end">2.0</text>
<line x1="22.8" y1="385.2" x2="24.5" y2="385.2" stroke="#2a2a2a" stroke-width="0.6"/>
<text x="21.5" y="387.55" fill="#1a1a1a" font-size="6.5" text-anchor="end">2.5</text>
<text transform="translate(9.4 306) rotate(-90)" fill="#111" font-size="6.5" font-weight="bold" text-anchor="middle" textLength="54" lengthAdjust="spacingAndGlyphs">Depth (meter bsf)</text>
<path d="M56.1 234.9C55.37 236.58 53.17 241.55 51.7 245C50.23 248.45 48.62 251.8 47.3 255.6C45.98 259.4 44.82 263.72 43.8 267.8C42.78 271.88 41.93 276.3 41.2 280.1C40.47 283.9 39.9 287.28 39.4 290.6C38.9 293.92 38.48 295.72 38.2 300C37.92 304.28 38.08 309.2 37.7 316.3C37.32 323.4 36.4 334.72 35.9 342.6C35.4 350.48 35.1 356.6 34.7 363.6C34.3 370.6 33.7 381.1 33.5 384.6" fill="none" stroke="#000" stroke-width="1.7" stroke-linecap="butt" stroke-linejoin="round"/>
<path d="M33.3 234.9C34.47 236.15 37.67 239.55 40.3 242.4C42.93 245.25 46.18 248.5 49.1 252C52.02 255.5 55.18 259.75 57.8 263.4C60.42 267.05 62.75 270.53 64.8 273.9C66.85 277.27 68.48 280.38 70.1 283.6C71.72 286.82 73.33 290.47 74.5 293.2C75.67 295.93 76.38 298.2 77.1 300C77.82 301.8 77.35 300.12 78.8 304C80.25 307.88 83.75 316.28 85.8 323.3C87.85 330.32 89.68 338.8 91.1 346.1C92.52 353.4 93.48 360.68 94.3 367.1C95.12 373.52 95.72 381.68 96 384.6" fill="none" stroke="#b5191f" stroke-width="1.7" stroke-linecap="butt" stroke-linejoin="round"/>
<g fill="#b5191f"><circle cx="33.6" cy="236.3" r="1.8"/><circle cx="44.7" cy="243.3" r="1.8"/><circle cx="54" cy="255.6" r="1.8"/><circle cx="59.9" cy="267.3" r="1.8"/><circle cx="65.7" cy="275.3" r="1.8"/><circle cx="68.3" cy="281.8" r="1.8"/><circle cx="66" cy="291.5" r="1.8"/><circle cx="77.8" cy="294.6" r="1.8"/><circle cx="78" cy="307.2" r="1.8"/><circle cx="83" cy="323.3" r="1.8"/><circle cx="85.8" cy="332.4" r="1.8"/><circle cx="87.1" cy="339.2" r="1.8"/><circle cx="88.3" cy="354.3" r="1.8"/></g>
<g fill="#000"><circle cx="41.3" cy="240.1" r="1.9"/><circle cx="41.7" cy="246.3" r="1.9"/><circle cx="34" cy="251.2" r="1.9"/><circle cx="41" cy="252.2" r="1.9"/><circle cx="39.4" cy="258.4" r="1.9"/><circle cx="43.4" cy="264.3" r="1.9"/><circle cx="42.7" cy="279.6" r="1.9"/><circle cx="49.4" cy="294.6" r="1.9"/><circle cx="34.5" cy="312.4" r="1.9"/><circle cx="41.5" cy="330.6" r="1.9"/><circle cx="42.6" cy="357.8" r="1.9"/></g>
<path d="M134.3 234.9C134.3 242.42 134.17 271.3 134.3 280C134.43 288.7 134.52 284.8 135.1 287.1C135.68 289.4 136.33 291.42 137.8 293.8C139.27 296.18 140.98 298.68 143.9 301.4C146.82 304.12 150.77 307.18 155.3 310.1C159.83 313.02 165.55 315.83 171.1 318.9C176.65 321.97 183.07 325.13 188.6 328.5C194.13 331.87 199.25 335.5 204.3 339.1C209.35 342.7 216.47 348.27 218.9 350.1" fill="none" stroke="#f4a020" stroke-width="1.55" stroke-linecap="butt" stroke-linejoin="round"/>
<g fill="#f4a020"><circle cx="133.9" cy="236.6" r="1.8"/><circle cx="133.9" cy="243.3" r="1.8"/><circle cx="133.9" cy="255.2" r="1.8"/><circle cx="133.9" cy="267.3" r="1.8"/><circle cx="133.9" cy="275.3" r="1.8"/><circle cx="133.9" cy="282.4" r="1.8"/><circle cx="139.5" cy="291.5" r="1.8"/><circle cx="138.7" cy="294.6" r="1.8"/><circle cx="146.2" cy="307.2" r="1.8"/><circle cx="174.6" cy="323.3" r="1.8"/><circle cx="189.5" cy="332.4" r="1.8"/><circle cx="200.3" cy="339.2" r="1.8"/></g>
<path d="M179.8 234.9C181.55 235.72 187.23 237.82 190.3 239.8C193.37 241.78 196.38 244.32 198.2 246.8C200.02 249.28 201.05 252.07 201.2 254.7C201.35 257.33 200.62 259.83 199.1 262.6C197.58 265.37 195.32 268.38 192.1 271.3C188.88 274.22 184.47 277.18 179.8 280.1C175.13 283.02 169.07 286.18 164.1 288.8C159.13 291.42 153.37 293.93 150 295.8C146.63 297.67 145.65 298.33 143.9 300C142.15 301.67 140.87 303.38 139.5 305.8C138.13 308.22 136.57 311.58 135.7 314.5C134.83 317.42 134.53 321.83 134.3 323.3" fill="none" stroke="#3b78bf" stroke-width="1.55" stroke-linecap="butt" stroke-linejoin="round"/>
<g fill="#3b78bf"><circle cx="187.2" cy="237.2" r="1.85"/><circle cx="192.1" cy="243.3" r="1.85"/><circle cx="187.4" cy="255.4" r="1.85"/><circle cx="180.2" cy="267.3" r="1.85"/><circle cx="176" cy="275.3" r="1.85"/><circle cx="170.5" cy="282.4" r="1.85"/><circle cx="165.5" cy="291.5" r="1.85"/><circle cx="156.3" cy="294.6" r="1.85"/><circle cx="144.4" cy="307.2" r="1.85"/><circle cx="134" cy="323.3" r="1.85"/><circle cx="134" cy="332.4" r="1.85"/><circle cx="134" cy="339.2" r="1.85"/><circle cx="134" cy="354.3" r="1.85"/></g>
<path d="M217 239.4C215.18 239.9 210.25 241.17 206.1 242.4C201.95 243.63 197.93 244.6 192.1 246.8C186.27 249 177.53 252.53 171.1 255.6C164.67 258.67 158.18 262 153.5 265.2C148.82 268.4 145.77 271.73 143 274.8C140.23 277.87 138.33 280.68 136.9 283.6C135.47 286.52 134.87 289.57 134.4 292.3C133.93 295.03 134.15 284.62 134.1 300C134.05 315.38 134.1 370.5 134.1 384.6" fill="none" stroke="#f0757a" stroke-width="1.6" stroke-linecap="butt" stroke-linejoin="round"/>
<g fill="#f0757a"><circle cx="213.5" cy="241" r="1.8"/><circle cx="192.6" cy="246.3" r="1.8"/><circle cx="170.7" cy="255.4" r="1.8"/><circle cx="154.2" cy="264.3" r="1.8"/><circle cx="135.7" cy="282.7" r="1.8"/><circle cx="134.3" cy="288" r="1.8"/></g>
<path d="M300.3 234.9C300.17 237.47 299.93 245.4 299.5 250.3C299.07 255.2 298.43 259.92 297.7 264.3C296.97 268.68 296.12 273.1 295.1 276.6C294.08 280.1 293.07 282.38 291.6 285.3C290.13 288.22 288 291.65 286.3 294.1C284.6 296.55 283.43 298.05 281.4 300C279.37 301.95 277.67 303.52 274.1 305.8C270.53 308.08 264.38 311.37 260 313.7C255.62 316.03 251.35 318.2 247.8 319.8C244.25 321.4 240.22 322.72 238.7 323.3" fill="none" stroke="#0fa05a" stroke-width="1.7" stroke-linecap="butt" stroke-linejoin="round"/>
<path d="M288.1 234.9C288.53 236.58 289.83 240.97 290.7 245C291.57 249.03 292.57 254.72 293.3 259.1C294.03 263.48 294.65 267.52 295.1 271.3C295.55 275.08 295.98 278.88 296 281.8C296.02 284.72 295.72 286.52 295.2 288.8C294.68 291.08 293.88 293.3 292.9 295.5C291.92 297.7 290.68 299.7 289.3 302C287.92 304.3 287.43 306.05 284.6 309.3C281.77 312.55 276.98 317.27 272.3 321.5C267.62 325.73 262.1 330.47 256.5 334.7C250.9 338.93 241.67 344.87 238.7 346.9" fill="none" stroke="#b5191f" stroke-width="1.7" stroke-linecap="butt" stroke-linejoin="round"/>
<text x="312.9" y="368.4" fill="#111" font-size="7.55" text-anchor="middle" font-weight="bold">GC09</text>
<rect x="380.7" y="234.6" width="303.3" height="45" fill="#d1d3d4"/>
<line x1="380.7" y1="226.6" x2="474.4" y2="226.6" stroke="#2a2a2a" stroke-width="0.55"/>
<line x1="384.9" y1="225.3" x2="384.9" y2="226.6" stroke="#2a2a2a" stroke-width="0.55"/>
<text x="384.9" y="224.3" fill="#1a1a1a" font-size="6.5" text-anchor="middle">0.0</text>
<line x1="406.3" y1="225.3" x2="406.3" y2="226.6" stroke="#2a2a2a" stroke-width="0.55"/>
<text x="406.3" y="224.3" fill="#1a1a1a" font-size="6.5" text-anchor="middle">0.5</text>
<line x1="427.6" y1="225.3" x2="427.6" y2="226.6" stroke="#2a2a2a" stroke-width="0.55"/>
<text x="427.6" y="224.3" fill="#1a1a1a" font-size="6.5" text-anchor="middle">1.0</text>
<line x1="448.9" y1="225.3" x2="448.9" y2="226.6" stroke="#2a2a2a" stroke-width="0.55"/>
<text x="448.9" y="224.3" fill="#1a1a1a" font-size="6.5" text-anchor="middle">1.5</text>
<line x1="470.1" y1="225.3" x2="470.1" y2="226.6" stroke="#2a2a2a" stroke-width="0.55"/>
<text x="470.1" y="224.3" fill="#1a1a1a" font-size="6.5" text-anchor="middle">2.0</text>
<line x1="484" y1="226.5" x2="577.7" y2="226.5" stroke="#f0757a" stroke-width="0.7"/>
<line x1="488.4" y1="225.2" x2="488.4" y2="226.5" stroke="#f0757a" stroke-width="0.7"/>
<text x="488.4" y="224.2" fill="#f0757a" font-size="6.5" text-anchor="middle">0</text>
<line x1="509.7" y1="225.2" x2="509.7" y2="226.5" stroke="#f0757a" stroke-width="0.7"/>
<text x="509.7" y="224.2" fill="#f0757a" font-size="6.5" text-anchor="middle">50</text>
<line x1="531.05" y1="225.2" x2="531.05" y2="226.5" stroke="#f0757a" stroke-width="0.7"/>
<text x="531.05" y="224.2" fill="#f0757a" font-size="6.5" text-anchor="middle">100</text>
<line x1="552.4" y1="225.2" x2="552.4" y2="226.5" stroke="#f0757a" stroke-width="0.7"/>
<text x="552.4" y="224.2" fill="#f0757a" font-size="6.5" text-anchor="middle">150</text>
<line x1="573.7" y1="225.2" x2="573.7" y2="226.5" stroke="#f0757a" stroke-width="0.7"/>
<text x="573.7" y="224.2" fill="#f0757a" font-size="6.5" text-anchor="middle">200</text>
<line x1="589.2" y1="226.4" x2="683.8" y2="226.4" stroke="#000" stroke-width="0.7"/>
<path d="M593.2 225.3v6.1M618.06 225.3v6.1M642.92 225.3v6.1M667.78 225.3v6.1" stroke="#000" stroke-width="0.8" fill="none"/>
<path d="M605.63 226.4v4.8M630.49 226.4v4.8M655.35 226.4v4.8M680.21 226.4v4.8" stroke="#333" stroke-width="0.7" fill="none"/>
<path d="M589.46 226.4v2.4M590.44 226.4v2.4M591.27 226.4v2.4M592 226.4v2.4M592.63 226.4v2.4M596.94 226.4v2.4M599.13 226.4v2.4M600.68 226.4v2.4M601.89 226.4v2.4M602.87 226.4v2.4M603.7 226.4v2.4M604.43 226.4v2.4M605.06 226.4v2.4M609.37 226.4v2.4M611.56 226.4v2.4M613.11 226.4v2.4M614.32 226.4v2.4M615.3 226.4v2.4M616.13 226.4v2.4M616.86 226.4v2.4M617.49 226.4v2.4M621.8 226.4v2.4M623.99 226.4v2.4M625.54 226.4v2.4M626.75 226.4v2.4M627.73 226.4v2.4M628.56 226.4v2.4M629.29 226.4v2.4M629.92 226.4v2.4M634.23 226.4v2.4M636.42 226.4v2.4M637.97 226.4v2.4M639.18 226.4v2.4M640.16 226.4v2.4M640.99 226.4v2.4M641.72 226.4v2.4M642.35 226.4v2.4M646.66 226.4v2.4M648.85 226.4v2.4M650.4 226.4v2.4M651.61 226.4v2.4M652.59 226.4v2.4M653.42 226.4v2.4M654.15 226.4v2.4M654.78 226.4v2.4M659.09 226.4v2.4M661.28 226.4v2.4M662.83 226.4v2.4M664.04 226.4v2.4M665.02 226.4v2.4M665.85 226.4v2.4M666.58 226.4v2.4M667.21 226.4v2.4M671.52 226.4v2.4M673.71 226.4v2.4M675.26 226.4v2.4M676.47 226.4v2.4M677.45 226.4v2.4M678.28 226.4v2.4M679.01 226.4v2.4M679.64 226.4v2.4" stroke="#111" stroke-width="0.5" fill="none"/>
<text x="593.6" y="223.6" fill="#1a1a1a" font-size="6.5" text-anchor="middle">–8</text>
<text x="618.46" y="223.6" fill="#1a1a1a" font-size="6.5" text-anchor="middle">–6</text>
<text x="643.32" y="223.6" fill="#1a1a1a" font-size="6.5" text-anchor="middle">–4</text>
<text x="668.18" y="223.6" fill="#1a1a1a" font-size="6.5" text-anchor="middle">–2</text>
<line x1="380.7" y1="226.6" x2="380.7" y2="392.1" stroke="#2a2a2a" stroke-width="0.6"/>
<line x1="379" y1="234.6" x2="380.7" y2="234.6" stroke="#2a2a2a" stroke-width="0.6"/>
<text x="377.7" y="236.95" fill="#1a1a1a" font-size="6.5" text-anchor="end">0.0</text>
<line x1="379" y1="253.44" x2="380.7" y2="253.44" stroke="#2a2a2a" stroke-width="0.6"/>
<text x="377.7" y="255.79" fill="#1a1a1a" font-size="6.5" text-anchor="end">0.5</text>
<line x1="379" y1="272.28" x2="380.7" y2="272.28" stroke="#2a2a2a" stroke-width="0.6"/>
<text x="377.7" y="274.63" fill="#1a1a1a" font-size="6.5" text-anchor="end">1.0</text>
<line x1="379" y1="291.12" x2="380.7" y2="291.12" stroke="#2a2a2a" stroke-width="0.6"/>
<text x="377.7" y="293.47" fill="#1a1a1a" font-size="6.5" text-anchor="end">1.5</text>
<line x1="379" y1="309.96" x2="380.7" y2="309.96" stroke="#2a2a2a" stroke-width="0.6"/>
<text x="377.7" y="312.31" fill="#1a1a1a" font-size="6.5" text-anchor="end">2.0</text>
<line x1="379" y1="328.8" x2="380.7" y2="328.8" stroke="#2a2a2a" stroke-width="0.6"/>
<text x="377.7" y="331.15" fill="#1a1a1a" font-size="6.5" text-anchor="end">2.5</text>
<line x1="379" y1="347.64" x2="380.7" y2="347.64" stroke="#2a2a2a" stroke-width="0.6"/>
<text x="377.7" y="349.99" fill="#1a1a1a" font-size="6.5" text-anchor="end">3.0</text>
<line x1="379" y1="366.48" x2="380.7" y2="366.48" stroke="#2a2a2a" stroke-width="0.6"/>
<text x="377.7" y="368.83" fill="#1a1a1a" font-size="6.5" text-anchor="end">3.5</text>
<line x1="379" y1="385.32" x2="380.7" y2="385.32" stroke="#2a2a2a" stroke-width="0.6"/>
<text x="377.7" y="387.67" fill="#1a1a1a" font-size="6.5" text-anchor="end">4.0</text>
<text transform="translate(365.6 306) rotate(-90)" fill="#111" font-size="6.5" font-weight="bold" text-anchor="middle" textLength="54" lengthAdjust="spacingAndGlyphs">Depth (meter bsf)</text>
<path d="M414.6 235.4C413.72 235.98 410.92 237.3 409.3 238.9C407.68 240.5 406.13 242.52 404.9 245C403.67 247.48 402.68 250.58 401.9 253.8C401.12 257.02 400.67 260.5 400.2 264.3C399.73 268.1 399.4 272.52 399.1 276.6C398.8 280.68 398.57 284.9 398.4 288.8C398.23 292.7 398.18 284.03 398.1 300C398.02 315.97 397.93 370.5 397.9 384.6" fill="none" stroke="#000" stroke-width="1.7" stroke-linecap="butt" stroke-linejoin="round"/>
<path d="M395.6 235.4C396.72 235.83 400.3 236.53 402.3 238C404.3 239.47 406 241.57 407.6 244.2C409.2 246.83 410.68 250.45 411.9 253.8C413.12 257.15 414.1 260.8 414.9 264.3C415.7 267.8 416.23 271.3 416.7 274.8C417.17 278.3 417.38 281.1 417.7 285.3C418.02 289.5 418.18 293.38 418.6 300C419.02 306.62 419.77 315 420.2 325C420.63 335 420.92 350.07 421.2 360C421.48 369.93 421.78 380.5 421.9 384.6" fill="none" stroke="#b5191f" stroke-width="1.7" stroke-linecap="butt" stroke-linejoin="round"/>
<g fill="#b5191f"><circle cx="395.6" cy="235.4" r="1.8"/><circle cx="398.3" cy="236.6" r="1.8"/><circle cx="400.9" cy="238" r="1.8"/><circle cx="405.8" cy="240.1" r="1.8"/><circle cx="407.2" cy="242.4" r="1.8"/><circle cx="410.7" cy="243.3" r="1.8"/><circle cx="409" cy="246.8" r="1.8"/><circle cx="415.8" cy="251.2" r="1.8"/><circle cx="415.4" cy="254.7" r="1.8"/><circle cx="416.7" cy="258.7" r="1.8"/><circle cx="414.6" cy="262.6" r="1.8"/><circle cx="418.1" cy="266.4" r="1.8"/><circle cx="417.5" cy="270.4" r="1.8"/><circle cx="417.2" cy="273.9" r="1.8"/><circle cx="415.8" cy="277.4" r="1.8"/><circle cx="416.7" cy="279.2" r="1.8"/><circle cx="418.1" cy="285.3" r="1.8"/><circle cx="420.2" cy="290.9" r="1.8"/><circle cx="419.5" cy="294.1" r="1.8"/><circle cx="421" cy="297.9" r="1.8"/><circle cx="419.8" cy="305.8" r="1.8"/><circle cx="420.5" cy="311.5" r="1.8"/><circle cx="420.5" cy="317.2" r="1.8"/><circle cx="417.7" cy="324.7" r="1.8"/><circle cx="418.6" cy="332.2" r="1.8"/><circle cx="414.6" cy="339.6" r="1.8"/><circle cx="414.6" cy="346.4" r="1.8"/><circle cx="415.4" cy="349.6" r="1.8"/></g>
<g fill="#000"><circle cx="425.6" cy="235.1" r="1.9"/><circle cx="414.2" cy="236.3" r="1.9"/><circle cx="405.5" cy="237.7" r="1.9"/><circle cx="400.6" cy="241.9" r="1.9"/><circle cx="400.6" cy="245.4" r="1.9"/><circle cx="401.8" cy="250.6" r="1.9"/><circle cx="402.3" cy="252.9" r="1.9"/><circle cx="396.7" cy="271.8" r="1.9"/><circle cx="395.6" cy="288.8" r="1.9"/><circle cx="397.9" cy="292.7" r="1.9"/><circle cx="400.2" cy="294.4" r="1.9"/><circle cx="401.8" cy="298.2" r="1.9"/><circle cx="404.1" cy="305.8" r="1.9"/><circle cx="399.1" cy="317.2" r="1.9"/><circle cx="404.9" cy="328.5" r="1.9"/><circle cx="405.6" cy="339.9" r="1.9"/><circle cx="397.9" cy="347.1" r="1.9"/></g>
<g fill="#f4a020"><circle cx="488.2" cy="236" r="1.8"/><circle cx="488.2" cy="239.2" r="1.8"/><circle cx="488.2" cy="242.4" r="1.8"/><circle cx="488.2" cy="245.6" r="1.8"/><circle cx="488.2" cy="248.8" r="1.8"/><circle cx="488.2" cy="252" r="1.8"/><circle cx="488.2" cy="255.2" r="1.8"/><circle cx="488.2" cy="258.4" r="1.8"/><circle cx="488.2" cy="261.6" r="1.8"/><circle cx="488.2" cy="264.8" r="1.8"/><circle cx="488.2" cy="268" r="1.8"/><circle cx="488.2" cy="271.2" r="1.8"/><circle cx="488.2" cy="274.4" r="1.8"/><circle cx="488.2" cy="277.6" r="1.8"/><circle cx="488.2" cy="280.8" r="1.8"/><circle cx="488.2" cy="284" r="1.8"/><circle cx="488.2" cy="287.2" r="1.8"/><circle cx="488.2" cy="290.4" r="1.8"/><circle cx="488.2" cy="293.6" r="1.8"/><circle cx="488.2" cy="296.8" r="1.8"/></g>
<path d="M488.3 234.6C488.3 242.5 488.2 272.77 488.3 282C488.4 291.23 488.45 286.33 488.9 290C489.35 293.67 490.07 299.03 491 304C491.93 308.97 493.18 313.95 494.5 319.8C495.82 325.65 497.58 332.38 498.9 339.1C500.22 345.82 501.28 352.52 502.4 360.1C503.52 367.68 505.07 380.52 505.6 384.6" fill="none" stroke="#f4a020" stroke-width="1.55" stroke-linecap="butt" stroke-linejoin="round"/>
<g fill="#f4a020"><circle cx="492.2" cy="317.2" r="1.8"/><circle cx="495.4" cy="324.7" r="1.8"/><circle cx="497.7" cy="332.2" r="1.8"/><circle cx="500.7" cy="339.6" r="1.8"/><circle cx="502.8" cy="346.4" r="1.8"/><circle cx="502.8" cy="349.6" r="1.8"/></g>
<path d="M542.7 234.5C543.72 234.95 546.97 236.03 548.8 237.2C550.63 238.37 552.97 239.9 553.7 241.5C554.43 243.1 554.15 244.9 553.2 246.8C552.25 248.7 550.48 250.72 548 252.9C545.52 255.08 541.95 257.42 538.3 259.9C534.65 262.38 530.18 265.02 526.1 267.8C522.02 270.58 517.45 273.68 513.8 276.6C510.15 279.52 506.97 282.38 504.2 285.3C501.43 288.22 498.95 291.65 497.2 294.1C495.45 296.55 494.88 297.47 493.7 300C492.52 302.53 490.93 306 490.1 309.3C489.27 312.6 489.02 316.6 488.7 319.8C488.38 323 488.28 327.05 488.2 328.5" fill="none" stroke="#3b78bf" stroke-width="1.55" stroke-linecap="butt" stroke-linejoin="round"/>
<g fill="#3b78bf"><circle cx="544.5" cy="234.8" r="1.85"/><circle cx="546.6" cy="236.3" r="1.85"/><circle cx="548.5" cy="238.9" r="1.85"/><circle cx="549.2" cy="242.8" r="1.85"/><circle cx="546.6" cy="247.3" r="1.85"/><circle cx="544.5" cy="251.2" r="1.85"/><circle cx="541" cy="254.7" r="1.85"/><circle cx="538.7" cy="258.2" r="1.85"/><circle cx="536.9" cy="262.2" r="1.85"/><circle cx="533.6" cy="266.4" r="1.85"/><circle cx="529.2" cy="270.1" r="1.85"/><circle cx="526.1" cy="273.4" r="1.85"/><circle cx="521.7" cy="277.1" r="1.85"/><circle cx="519.9" cy="279.6" r="1.85"/><circle cx="512.9" cy="285.3" r="1.85"/><circle cx="506.3" cy="290.9" r="1.85"/><circle cx="501.5" cy="293.7" r="1.85"/><circle cx="496.3" cy="298.1" r="1.85"/><circle cx="491" cy="305.8" r="1.85"/><circle cx="488" cy="311.5" r="1.85"/><circle cx="488" cy="317.2" r="1.85"/><circle cx="488" cy="324.7" r="1.85"/><circle cx="488" cy="332.2" r="1.85"/><circle cx="488" cy="339.6" r="1.85"/><circle cx="488" cy="346.4" r="1.85"/><circle cx="488" cy="349.6" r="1.85"/></g>
<path d="M571.6 234.9C569.85 235.13 565.18 235.63 561.1 236.3C557.02 236.97 552.35 237.73 547.1 238.9C541.85 240.07 535.15 241.55 529.6 243.3C524.05 245.05 518.18 247.22 513.8 249.4C509.42 251.58 506.22 253.92 503.3 256.4C500.38 258.88 498.2 261.67 496.3 264.3C494.4 266.93 493.07 269.42 491.9 272.2C490.73 274.98 489.88 277.93 489.3 281C488.72 284.07 488.6 287.43 488.4 290.6C488.2 293.77 488.17 284.33 488.1 300C488.03 315.67 488.02 370.5 488 384.6" fill="none" stroke="#f0757a" stroke-width="1.6" stroke-linecap="butt" stroke-linejoin="round"/>
<g fill="#f0757a"><circle cx="561.1" cy="236.3" r="1.8"/><circle cx="528.3" cy="241.9" r="1.8"/><circle cx="510.6" cy="252.9" r="1.8"/><circle cx="499.4" cy="262.2" r="1.8"/><circle cx="491.4" cy="271.7" r="1.8"/><circle cx="488.9" cy="281" r="1.8"/><circle cx="488.2" cy="290.9" r="1.8"/></g>
<path d="M657.9 234.5C657.3 235.97 655.77 239.78 654.3 243.3C652.83 246.82 650.85 251.52 649.1 255.6C647.35 259.68 645.12 264.3 643.8 267.8C642.48 271.3 641.92 274.27 641.2 276.6C640.48 278.93 640.52 279.9 639.5 281.8C638.48 283.7 637.3 285.95 635.1 288C632.9 290.05 629.67 292.22 626.3 294.1C622.93 295.98 618.12 297.8 614.9 299.3C611.68 300.8 610.42 301.67 607 303.1C603.58 304.53 596.5 307.1 594.4 307.9" fill="none" stroke="#0fa05a" stroke-width="1.7" stroke-linecap="butt" stroke-linejoin="round"/>
<path d="M654 234.5C653.92 236.25 653.97 240.9 653.5 245C653.03 249.1 652.08 254.42 651.2 259.1C650.32 263.78 649.28 268.43 648.2 273.1C647.12 277.77 645.95 282.62 644.7 287.1C643.45 291.58 642.6 294.27 640.7 300C638.8 305.73 636.57 314.12 633.3 321.5C630.03 328.88 625.48 337 621.1 344.3C616.72 351.6 611.53 359.17 607 365.3C602.47 371.43 596.08 378.47 593.9 381.1" fill="none" stroke="#b5191f" stroke-width="1.7" stroke-linecap="butt" stroke-linejoin="round"/>
<text x="668.35" y="368.4" fill="#111" font-size="7.55" text-anchor="middle" font-weight="bold">GC04</text>
<rect x="24.5" y="421.4" width="304.2" height="15.3" fill="#d1d3d4"/>
<line x1="24.5" y1="413.7" x2="117.8" y2="413.7" stroke="#2a2a2a" stroke-width="0.55"/>
<line x1="28.6" y1="412.4" x2="28.6" y2="413.7" stroke="#2a2a2a" stroke-width="0.55"/>
<text x="28.6" y="411.4" fill="#1a1a1a" font-size="6.5" text-anchor="middle">0.0</text>
<line x1="49.9" y1="412.4" x2="49.9" y2="413.7" stroke="#2a2a2a" stroke-width="0.55"/>
<text x="49.9" y="411.4" fill="#1a1a1a" font-size="6.5" text-anchor="middle">0.5</text>
<line x1="71.1" y1="412.4" x2="71.1" y2="413.7" stroke="#2a2a2a" stroke-width="0.55"/>
<text x="71.1" y="411.4" fill="#1a1a1a" font-size="6.5" text-anchor="middle">1.0</text>
<line x1="92.4" y1="412.4" x2="92.4" y2="413.7" stroke="#2a2a2a" stroke-width="0.55"/>
<text x="92.4" y="411.4" fill="#1a1a1a" font-size="6.5" text-anchor="middle">1.5</text>
<line x1="113.7" y1="412.4" x2="113.7" y2="413.7" stroke="#2a2a2a" stroke-width="0.55"/>
<text x="113.7" y="411.4" fill="#1a1a1a" font-size="6.5" text-anchor="middle">2.0</text>
<line x1="129.9" y1="413.5" x2="223.6" y2="413.5" stroke="#f0757a" stroke-width="0.7"/>
<line x1="134.3" y1="412.2" x2="134.3" y2="413.5" stroke="#f0757a" stroke-width="0.7"/>
<text x="134.3" y="411.2" fill="#f0757a" font-size="6.5" text-anchor="middle">0</text>
<line x1="155.6" y1="412.2" x2="155.6" y2="413.5" stroke="#f0757a" stroke-width="0.7"/>
<text x="155.6" y="411.2" fill="#f0757a" font-size="6.5" text-anchor="middle">50</text>
<line x1="176.9" y1="412.2" x2="176.9" y2="413.5" stroke="#f0757a" stroke-width="0.7"/>
<text x="176.9" y="411.2" fill="#f0757a" font-size="6.5" text-anchor="middle">100</text>
<line x1="198.2" y1="412.2" x2="198.2" y2="413.5" stroke="#f0757a" stroke-width="0.7"/>
<text x="198.2" y="411.2" fill="#f0757a" font-size="6.5" text-anchor="middle">150</text>
<line x1="219.5" y1="412.2" x2="219.5" y2="413.5" stroke="#f0757a" stroke-width="0.7"/>
<text x="219.5" y="411.2" fill="#f0757a" font-size="6.5" text-anchor="middle">200</text>
<line x1="234.4" y1="413.5" x2="328.7" y2="413.5" stroke="#000" stroke-width="0.7"/>
<path d="M238.2 412.4v6.1M262.8 412.4v6.1M287.4 412.4v6.1M312 412.4v6.1" stroke="#000" stroke-width="0.8" fill="none"/>
<path d="M250.5 413.5v4.8M275.1 413.5v4.8M299.7 413.5v4.8M324.3 413.5v4.8" stroke="#333" stroke-width="0.7" fill="none"/>
<path d="M234.5 413.5v2.4M235.47 413.5v2.4M236.29 413.5v2.4M237.01 413.5v2.4M237.64 413.5v2.4M241.9 413.5v2.4M244.07 413.5v2.4M245.61 413.5v2.4M246.8 413.5v2.4M247.77 413.5v2.4M248.59 413.5v2.4M249.31 413.5v2.4M249.94 413.5v2.4M254.2 413.5v2.4M256.37 413.5v2.4M257.91 413.5v2.4M259.1 413.5v2.4M260.07 413.5v2.4M260.89 413.5v2.4M261.61 413.5v2.4M262.24 413.5v2.4M266.5 413.5v2.4M268.67 413.5v2.4M270.21 413.5v2.4M271.4 413.5v2.4M272.37 413.5v2.4M273.19 413.5v2.4M273.91 413.5v2.4M274.54 413.5v2.4M278.8 413.5v2.4M280.97 413.5v2.4M282.51 413.5v2.4M283.7 413.5v2.4M284.67 413.5v2.4M285.49 413.5v2.4M286.21 413.5v2.4M286.84 413.5v2.4M291.1 413.5v2.4M293.27 413.5v2.4M294.81 413.5v2.4M296 413.5v2.4M296.97 413.5v2.4M297.79 413.5v2.4M298.51 413.5v2.4M299.14 413.5v2.4M303.4 413.5v2.4M305.57 413.5v2.4M307.11 413.5v2.4M308.3 413.5v2.4M309.27 413.5v2.4M310.09 413.5v2.4M310.81 413.5v2.4M311.44 413.5v2.4M315.7 413.5v2.4M317.87 413.5v2.4M319.41 413.5v2.4M320.6 413.5v2.4M321.57 413.5v2.4M322.39 413.5v2.4M323.11 413.5v2.4M323.74 413.5v2.4M328 413.5v2.4" stroke="#111" stroke-width="0.5" fill="none"/>
<text x="238.6" y="410.7" fill="#1a1a1a" font-size="6.5" text-anchor="middle">–8</text>
<text x="263.2" y="410.7" fill="#1a1a1a" font-size="6.5" text-anchor="middle">–6</text>
<text x="287.8" y="410.7" fill="#1a1a1a" font-size="6.5" text-anchor="middle">–4</text>
<text x="312.4" y="410.7" fill="#1a1a1a" font-size="6.5" text-anchor="middle">–2</text>
<line x1="24.5" y1="413.7" x2="24.5" y2="579.6" stroke="#2a2a2a" stroke-width="0.6"/>
<line x1="22.8" y1="421.6" x2="24.5" y2="421.6" stroke="#2a2a2a" stroke-width="0.6"/>
<text x="21.5" y="423.95" fill="#1a1a1a" font-size="6.5" text-anchor="end">0.0</text>
<line x1="22.8" y1="440.43" x2="24.5" y2="440.43" stroke="#2a2a2a" stroke-width="0.6"/>
<text x="21.5" y="442.78" fill="#1a1a1a" font-size="6.5" text-anchor="end">0.5</text>
<line x1="22.8" y1="459.26" x2="24.5" y2="459.26" stroke="#2a2a2a" stroke-width="0.6"/>
<text x="21.5" y="461.61" fill="#1a1a1a" font-size="6.5" text-anchor="end">1.0</text>
<line x1="22.8" y1="478.09" x2="24.5" y2="478.09" stroke="#2a2a2a" stroke-width="0.6"/>
<text x="21.5" y="480.44" fill="#1a1a1a" font-size="6.5" text-anchor="end">1.5</text>
<line x1="22.8" y1="496.92" x2="24.5" y2="496.92" stroke="#2a2a2a" stroke-width="0.6"/>
<text x="21.5" y="499.27" fill="#1a1a1a" font-size="6.5" text-anchor="end">2.0</text>
<line x1="22.8" y1="515.75" x2="24.5" y2="515.75" stroke="#2a2a2a" stroke-width="0.6"/>
<text x="21.5" y="518.1" fill="#1a1a1a" font-size="6.5" text-anchor="end">2.5</text>
<line x1="22.8" y1="534.58" x2="24.5" y2="534.58" stroke="#2a2a2a" stroke-width="0.6"/>
<text x="21.5" y="536.93" fill="#1a1a1a" font-size="6.5" text-anchor="end">3.0</text>
<line x1="22.8" y1="553.41" x2="24.5" y2="553.41" stroke="#2a2a2a" stroke-width="0.6"/>
<text x="21.5" y="555.76" fill="#1a1a1a" font-size="6.5" text-anchor="end">3.5</text>
<line x1="22.8" y1="572.24" x2="24.5" y2="572.24" stroke="#2a2a2a" stroke-width="0.6"/>
<text x="21.5" y="574.59" fill="#1a1a1a" font-size="6.5" text-anchor="end">4.0</text>
<text transform="translate(9.4 492.8) rotate(-90)" fill="#111" font-size="6.5" font-weight="bold" text-anchor="middle" textLength="54" lengthAdjust="spacingAndGlyphs">Depth (meter bsf)</text>
<path d="M105.1 421.8C102.77 422.3 95.77 423.43 91.1 424.8C86.43 426.17 80.9 428.25 77.1 430C73.3 431.75 70.78 433.4 68.3 435.3C65.82 437.2 63.8 439.07 62.2 441.4C60.6 443.73 59.67 446.23 58.7 449.3C57.73 452.37 57.07 456 56.4 459.8C55.73 463.6 55.2 467.9 54.7 472.1C54.2 476.3 53.82 480.72 53.4 485C52.98 489.28 52.72 491.88 52.2 497.8C51.68 503.72 50.88 512.62 50.3 520.5C49.72 528.38 49.2 536.62 48.7 545.1C48.2 553.58 47.53 567.02 47.3 571.4" fill="none" stroke="#000" stroke-width="1.7" stroke-linecap="butt" stroke-linejoin="round"/>
<path d="M35.9 422.2C37.22 422.78 41.02 424.25 43.8 425.7C46.58 427.15 49.97 428.87 52.6 430.9C55.23 432.93 57.42 435.27 59.6 437.9C61.78 440.53 63.8 443.63 65.7 446.7C67.6 449.77 69.25 452.95 71 456.3C72.75 459.65 74.55 463.3 76.2 466.8C77.85 470.3 79.43 474.27 80.9 477.3C82.37 480.33 83.88 482.75 85 485C86.12 487.25 85.85 486.63 87.6 490.8C89.35 494.97 93.02 503.28 95.5 510C97.98 516.72 100.32 524.08 102.5 531.1C104.68 538.12 106.8 545.38 108.6 552.1C110.4 558.82 112.52 568.18 113.3 571.4" fill="none" stroke="#b5191f" stroke-width="1.7" stroke-linecap="butt" stroke-linejoin="round"/>
<g fill="#b5191f"><circle cx="36.3" cy="422.5" r="1.8"/><circle cx="42" cy="424.4" r="1.8"/><circle cx="50.3" cy="427.8" r="1.8"/><circle cx="53.4" cy="431.3" r="1.8"/><circle cx="56.6" cy="433.2" r="1.8"/><circle cx="60.1" cy="435.8" r="1.8"/><circle cx="64.3" cy="437.6" r="1.8"/><circle cx="66.2" cy="440" r="1.8"/><circle cx="67.5" cy="444.1" r="1.8"/><circle cx="68.3" cy="447.6" r="1.8"/><circle cx="71" cy="455.8" r="1.8"/><circle cx="72.2" cy="461.9" r="1.8"/><circle cx="77.6" cy="469.8" r="1.8"/><circle cx="78.5" cy="474.2" r="1.8"/><circle cx="82.9" cy="481.3" r="1.8"/><circle cx="84.6" cy="486.4" r="1.8"/><circle cx="85.5" cy="492.2" r="1.8"/><circle cx="89.5" cy="499.2" r="1.8"/><circle cx="89.5" cy="503.6" r="1.8"/><circle cx="85" cy="512" r="1.8"/><circle cx="93.4" cy="516.5" r="1.8"/><circle cx="97.4" cy="527.6" r="1.8"/><circle cx="103.4" cy="539.8" r="1.8"/><circle cx="106.7" cy="550.3" r="1.8"/><circle cx="108.1" cy="555.1" r="1.8"/></g>
<g fill="#000"><circle cx="75.5" cy="423.2" r="1.9"/><circle cx="63.9" cy="425.3" r="1.9"/><circle cx="58.7" cy="429.2" r="1.9"/><circle cx="58.7" cy="432.7" r="1.9"/><circle cx="51.7" cy="436.5" r="1.9"/><circle cx="43.6" cy="438.3" r="1.9"/><circle cx="59.9" cy="449.7" r="1.9"/><circle cx="47.7" cy="461" r="1.9"/><circle cx="106.3" cy="459.3" r="1.9"/><circle cx="51.2" cy="470.5" r="1.9"/><circle cx="50.8" cy="480" r="1.9"/><circle cx="108.1" cy="481.7" r="1.9"/><circle cx="63.6" cy="492.9" r="1.9"/><circle cx="56.1" cy="498.7" r="1.9"/><circle cx="48.4" cy="504.4" r="1.9"/><circle cx="53.4" cy="515.6" r="1.9"/><circle cx="49.6" cy="527" r="1.9"/><circle cx="35.2" cy="538.2" r="1.9"/><circle cx="50.8" cy="549.8" r="1.9"/></g>
<g fill="#f4a020"><circle cx="133.9" cy="422.5" r="1.8"/><circle cx="133.9" cy="425.1" r="1.8"/><circle cx="133.9" cy="427.7" r="1.8"/><circle cx="133.9" cy="430.3" r="1.8"/><circle cx="133.9" cy="432.9" r="1.8"/><circle cx="133.9" cy="435.5" r="1.8"/></g>
<path d="M134.3 421.6C134.33 422.67 134.37 426.02 134.5 428C134.63 429.98 134.4 431.55 135.1 433.5C135.8 435.45 136.8 437.8 138.7 439.7C140.6 441.6 142.85 443.15 146.5 444.9C150.15 446.65 155.05 448.15 160.6 450.2C166.15 452.25 173.38 455.02 179.8 457.2C186.22 459.38 192.73 461.25 199.1 463.3C205.47 465.35 214.85 468.47 218 469.5" fill="none" stroke="#f4a020" stroke-width="1.55" stroke-linecap="butt" stroke-linejoin="round"/>
<g fill="#f4a020"><circle cx="137.8" cy="447.6" r="1.8"/><circle cx="160.6" cy="455.4" r="1.8"/><circle cx="196.5" cy="461.9" r="1.8"/></g>
<path d="M199.1 422.5C197.63 423.17 193.52 425.15 190.3 426.5C187.08 427.85 183.88 429.18 179.8 430.6C175.72 432.02 170.47 433.63 165.8 435C161.13 436.37 155.88 437.43 151.8 438.8C147.72 440.17 143.93 441.6 141.3 443.2C138.67 444.8 137.17 446.5 136 448.4C134.83 450.3 134.58 453.57 134.3 454.6" fill="none" stroke="#3b78bf" stroke-width="1.55" stroke-linecap="butt" stroke-linejoin="round"/>
<g fill="#3b78bf"><circle cx="191.6" cy="425.3" r="1.85"/><circle cx="189.1" cy="427.8" r="1.85"/><circle cx="181.6" cy="431.3" r="1.85"/><circle cx="174.6" cy="433.2" r="1.85"/><circle cx="168.1" cy="435.8" r="1.85"/><circle cx="160.6" cy="437.6" r="1.85"/><circle cx="153.2" cy="439.7" r="1.85"/><circle cx="145.7" cy="441.4" r="1.85"/><circle cx="137.8" cy="444.1" r="1.85"/><circle cx="133.9" cy="447.6" r="1.85"/><circle cx="133.9" cy="455.4" r="1.85"/><circle cx="133.9" cy="461.5" r="1.85"/><circle cx="133.9" cy="469.8" r="1.85"/><circle cx="133.9" cy="474.2" r="1.85"/><circle cx="133.9" cy="481.1" r="1.85"/><circle cx="133.9" cy="486.4" r="1.85"/><circle cx="133.9" cy="492.2" r="1.85"/><circle cx="133.9" cy="499.2" r="1.85"/><circle cx="133.9" cy="503.6" r="1.85"/><circle cx="133.9" cy="512" r="1.85"/><circle cx="133.9" cy="516.5" r="1.85"/><circle cx="133.9" cy="527.6" r="1.85"/><circle cx="133.9" cy="539.8" r="1.85"/><circle cx="133.9" cy="550.3" r="1.85"/><circle cx="133.9" cy="555.1" r="1.85"/></g>
<path d="M200.8 421.8C198.18 422.15 190.63 422.97 185.1 423.9C179.57 424.83 172.87 426.23 167.6 427.4C162.33 428.57 157.6 429.58 153.5 430.9C149.4 432.22 145.77 433.68 143 435.3C140.23 436.92 138.3 438.55 136.9 440.6C135.5 442.65 135.07 445.2 134.6 447.6C134.13 450 134.18 434.37 134.1 455C134.02 475.63 134.1 552 134.1 571.4" fill="none" stroke="#f0757a" stroke-width="1.6" stroke-linecap="butt" stroke-linejoin="round"/>
<g fill="#f0757a"><circle cx="200.8" cy="422.2" r="1.8"/><circle cx="170.2" cy="425.3" r="1.8"/><circle cx="159.8" cy="426.9" r="1.8"/><circle cx="145.7" cy="430.9" r="1.8"/><circle cx="140.8" cy="432.5" r="1.8"/><circle cx="134.6" cy="436.5" r="1.8"/><circle cx="134.4" cy="440" r="1.8"/><circle cx="134.3" cy="444.5" r="1.8"/><circle cx="134.3" cy="452" r="1.8"/><circle cx="134.6" cy="461" r="1.8"/><circle cx="134.6" cy="474.2" r="1.8"/><circle cx="134.6" cy="493" r="1.8"/><circle cx="134.6" cy="507.9" r="1.8"/><circle cx="134.6" cy="526.3" r="1.8"/><circle cx="134.6" cy="546" r="1.8"/><circle cx="134.6" cy="553.5" r="1.8"/></g>
<path d="M298.6 421.6C299.07 421.62 300.8 421.47 301.4 421.7C302 421.93 302.23 422.2 302.2 423C302.17 423.8 301.8 424.88 301.2 426.5C300.6 428.12 299.47 430.65 298.6 432.7C297.73 434.75 297.17 436.9 296 438.8C294.83 440.7 293.8 442.35 291.6 444.1C289.4 445.85 286.9 447.55 282.8 449.3C278.7 451.05 272.25 452.98 267 454.6C261.75 456.22 255.97 457.75 251.3 459C246.63 460.25 241.05 461.58 239 462.1" fill="none" stroke="#0fa05a" stroke-width="1.7" stroke-linecap="butt" stroke-linejoin="round"/>
<path d="M303.8 421.6C304.03 422.72 304.85 426.02 305.2 428.3C305.55 430.58 305.98 433.12 305.9 435.3C305.82 437.48 305.63 439.5 304.7 441.4C303.77 443.3 302.78 444.8 300.3 446.7C297.82 448.6 294.17 450.75 289.8 452.8C285.43 454.85 279.93 456.8 274.1 459C268.27 461.2 260.65 463.88 254.8 466C248.95 468.12 241.63 470.75 239 471.7" fill="none" stroke="#b5191f" stroke-width="1.7" stroke-linecap="butt" stroke-linejoin="round"/>
<text x="311.5" y="555.6" fill="#111" font-size="7.55" text-anchor="middle" font-weight="bold">GC05</text>
<rect x="378.7" y="421.8" width="305.1" height="149.2" fill="#d1d3d4"/>
<line x1="378.7" y1="413.7" x2="474.4" y2="413.7" stroke="#2a2a2a" stroke-width="0.55"/>
<line x1="383" y1="412.4" x2="383" y2="413.7" stroke="#2a2a2a" stroke-width="0.55"/>
<text x="383" y="411.4" fill="#1a1a1a" font-size="6.5" text-anchor="middle">0.00</text>
<line x1="404.7" y1="412.4" x2="404.7" y2="413.7" stroke="#2a2a2a" stroke-width="0.55"/>
<text x="404.7" y="411.4" fill="#1a1a1a" font-size="6.5" text-anchor="middle">0.25</text>
<line x1="426.4" y1="412.4" x2="426.4" y2="413.7" stroke="#2a2a2a" stroke-width="0.55"/>
<text x="426.4" y="411.4" fill="#1a1a1a" font-size="6.5" text-anchor="middle">0.50</text>
<line x1="448.1" y1="412.4" x2="448.1" y2="413.7" stroke="#2a2a2a" stroke-width="0.55"/>
<text x="448.1" y="411.4" fill="#1a1a1a" font-size="6.5" text-anchor="middle">0.75</text>
<line x1="469.8" y1="412.4" x2="469.8" y2="413.7" stroke="#2a2a2a" stroke-width="0.55"/>
<text x="469.8" y="411.4" fill="#1a1a1a" font-size="6.5" text-anchor="middle">1.00</text>
<line x1="481.9" y1="413.4" x2="577.7" y2="413.4" stroke="#f0757a" stroke-width="0.7"/>
<line x1="486.3" y1="412.1" x2="486.3" y2="413.4" stroke="#f0757a" stroke-width="0.7"/>
<text x="486.3" y="411.1" fill="#f0757a" font-size="6.5" text-anchor="middle">0</text>
<line x1="503.8" y1="412.1" x2="503.8" y2="413.4" stroke="#f0757a" stroke-width="0.7"/>
<text x="503.8" y="411.1" fill="#f0757a" font-size="6.5" text-anchor="middle">50</text>
<line x1="521.3" y1="412.1" x2="521.3" y2="413.4" stroke="#f0757a" stroke-width="0.7"/>
<text x="521.3" y="411.1" fill="#f0757a" font-size="6.5" text-anchor="middle">100</text>
<line x1="538.8" y1="412.1" x2="538.8" y2="413.4" stroke="#f0757a" stroke-width="0.7"/>
<text x="538.8" y="411.1" fill="#f0757a" font-size="6.5" text-anchor="middle">150</text>
<line x1="556.2" y1="412.1" x2="556.2" y2="413.4" stroke="#f0757a" stroke-width="0.7"/>
<text x="556.2" y="411.1" fill="#f0757a" font-size="6.5" text-anchor="middle">200</text>
<line x1="573.7" y1="412.1" x2="573.7" y2="413.4" stroke="#f0757a" stroke-width="0.7"/>
<text x="573.7" y="411.1" fill="#f0757a" font-size="6.5" text-anchor="middle">250</text>
<line x1="588.7" y1="413.5" x2="684.1" y2="413.5" stroke="#000" stroke-width="0.7"/>
<path d="M592.9 412.4v6.1M617.86 412.4v6.1M642.82 412.4v6.1M667.78 412.4v6.1" stroke="#000" stroke-width="0.8" fill="none"/>
<path d="M605.38 413.5v4.8M630.34 413.5v4.8M655.3 413.5v4.8M680.26 413.5v4.8" stroke="#333" stroke-width="0.7" fill="none"/>
<path d="M589.14 413.5v2.4M590.13 413.5v2.4M590.97 413.5v2.4M591.69 413.5v2.4M592.33 413.5v2.4M596.66 413.5v2.4M598.85 413.5v2.4M600.41 413.5v2.4M601.62 413.5v2.4M602.61 413.5v2.4M603.45 413.5v2.4M604.17 413.5v2.4M604.81 413.5v2.4M609.14 413.5v2.4M611.33 413.5v2.4M612.89 413.5v2.4M614.1 413.5v2.4M615.09 413.5v2.4M615.93 413.5v2.4M616.65 413.5v2.4M617.29 413.5v2.4M621.62 413.5v2.4M623.81 413.5v2.4M625.37 413.5v2.4M626.58 413.5v2.4M627.57 413.5v2.4M628.41 413.5v2.4M629.13 413.5v2.4M629.77 413.5v2.4M634.1 413.5v2.4M636.29 413.5v2.4M637.85 413.5v2.4M639.06 413.5v2.4M640.05 413.5v2.4M640.89 413.5v2.4M641.61 413.5v2.4M642.25 413.5v2.4M646.58 413.5v2.4M648.77 413.5v2.4M650.33 413.5v2.4M651.54 413.5v2.4M652.53 413.5v2.4M653.37 413.5v2.4M654.09 413.5v2.4M654.73 413.5v2.4M659.06 413.5v2.4M661.25 413.5v2.4M662.81 413.5v2.4M664.02 413.5v2.4M665.01 413.5v2.4M665.85 413.5v2.4M666.57 413.5v2.4M667.21 413.5v2.4M671.54 413.5v2.4M673.73 413.5v2.4M675.29 413.5v2.4M676.5 413.5v2.4M677.49 413.5v2.4M678.33 413.5v2.4M679.05 413.5v2.4M679.69 413.5v2.4M684.02 413.5v2.4" stroke="#111" stroke-width="0.5" fill="none"/>
<text x="593.3" y="410.7" fill="#1a1a1a" font-size="6.5" text-anchor="middle">–8</text>
<text x="618.26" y="410.7" fill="#1a1a1a" font-size="6.5" text-anchor="middle">–6</text>
<text x="643.22" y="410.7" fill="#1a1a1a" font-size="6.5" text-anchor="middle">–4</text>
<text x="668.18" y="410.7" fill="#1a1a1a" font-size="6.5" text-anchor="middle">–2</text>
<line x1="378.7" y1="413.7" x2="378.7" y2="579.8" stroke="#2a2a2a" stroke-width="0.6"/>
<line x1="377" y1="421.8" x2="378.7" y2="421.8" stroke="#2a2a2a" stroke-width="0.6"/>
<text x="375.7" y="424.15" fill="#1a1a1a" font-size="6.5" text-anchor="end">0</text>
<line x1="377" y1="456" x2="378.7" y2="456" stroke="#2a2a2a" stroke-width="0.6"/>
<text x="375.7" y="458.35" fill="#1a1a1a" font-size="6.5" text-anchor="end">5</text>
<line x1="377" y1="490.2" x2="378.7" y2="490.2" stroke="#2a2a2a" stroke-width="0.6"/>
<text x="375.7" y="492.55" fill="#1a1a1a" font-size="6.5" text-anchor="end">10</text>
<line x1="377" y1="524.4" x2="378.7" y2="524.4" stroke="#2a2a2a" stroke-width="0.6"/>
<text x="375.7" y="526.75" fill="#1a1a1a" font-size="6.5" text-anchor="end">15</text>
<line x1="377" y1="558.6" x2="378.7" y2="558.6" stroke="#2a2a2a" stroke-width="0.6"/>
<text x="375.7" y="560.95" fill="#1a1a1a" font-size="6.5" text-anchor="end">20</text>
<text transform="translate(365.6 492.8) rotate(-90)" fill="#111" font-size="6.5" font-weight="bold" text-anchor="middle" textLength="54" lengthAdjust="spacingAndGlyphs">Depth (meter bsf)</text>
<path d="M417.2 421.3C415.88 422.17 411.63 424.47 409.3 426.5C406.97 428.53 404.8 430.87 403.2 433.5C401.6 436.13 400.67 439.08 399.7 442.3C398.73 445.52 397.98 449 397.4 452.8C396.82 456.6 396.5 459.73 396.2 465.1C395.9 470.47 395.82 467.28 395.6 485C395.38 502.72 395.02 557 394.9 571.4" fill="none" stroke="#000" stroke-width="1.7" stroke-linecap="butt" stroke-linejoin="round"/>
<path d="M391.8 421.3C393.27 422.03 397.68 423.95 400.6 425.7C403.52 427.45 406.83 429.47 409.3 431.8C411.77 434.13 413.65 436.78 415.4 439.7C417.15 442.62 418.62 445.95 419.8 449.3C420.98 452.65 421.77 456 422.5 459.8C423.23 463.6 423.72 467.9 424.2 472.1C424.68 476.3 424.82 478.68 425.4 485C425.98 491.32 427.02 499.98 427.7 510C428.38 520.02 429.12 534.87 429.5 545.1C429.88 555.33 429.92 567.02 430 571.4" fill="none" stroke="#b5191f" stroke-width="1.7" stroke-linecap="butt" stroke-linejoin="round"/>
<g fill="#000"><circle cx="404.1" cy="422.5" r="1.9"/><circle cx="408.1" cy="423" r="1.9"/><circle cx="403.2" cy="423.9" r="1.9"/><circle cx="404.6" cy="427.4" r="1.9"/><circle cx="397.6" cy="430.6" r="1.9"/><circle cx="401.4" cy="432.7" r="1.9"/><circle cx="398.4" cy="434.4" r="1.9"/><circle cx="392.7" cy="436.2" r="1.9"/><circle cx="400.6" cy="437.6" r="1.9"/><circle cx="391.8" cy="439.7" r="1.9"/><circle cx="406.3" cy="441.4" r="1.9"/><circle cx="392.7" cy="442.3" r="1.9"/><circle cx="402" cy="446.7" r="1.9"/><circle cx="406.3" cy="449.8" r="1.9"/><circle cx="398.8" cy="451.4" r="1.9"/><circle cx="392.7" cy="455.1" r="1.9"/><circle cx="397.9" cy="458.1" r="1.9"/><circle cx="391.8" cy="460.2" r="1.9"/><circle cx="395.8" cy="462.5" r="1.9"/><circle cx="391.8" cy="465.1" r="1.9"/><circle cx="394.9" cy="466.8" r="1.9"/><circle cx="390.9" cy="470.3" r="1.9"/><circle cx="392.7" cy="471.6" r="1.9"/><circle cx="396.2" cy="475.6" r="1.9"/><circle cx="391.8" cy="477" r="1.9"/></g>
<path d="M573.7 421.3C571.6 421.73 565.53 422.73 561.1 423.9C556.67 425.07 551.48 426.7 547.1 428.3C542.72 429.9 538.6 431.45 534.8 433.5C531 435.55 527.22 437.97 524.3 440.6C521.38 443.23 519.35 446.1 517.3 449.3C515.25 452.5 513.6 456.3 512 459.8C510.4 463.3 509 466.1 507.7 470.3C506.4 474.5 505.37 480.42 504.2 485C503.03 489.58 502.02 491 500.7 497.8C499.38 504.6 497.38 517.05 496.3 525.8C495.22 534.55 494.7 542.7 494.2 550.3C493.7 557.9 493.45 567.88 493.3 571.4" fill="none" stroke="#f0757a" stroke-width="1.6" stroke-linecap="butt" stroke-linejoin="round"/>
<g fill="#f0757a"><circle cx="573.4" cy="421.6" r="1.8"/><circle cx="546.6" cy="422.7" r="1.8"/><circle cx="540.6" cy="425.1" r="1.8"/><circle cx="527.8" cy="432.7" r="1.8"/><circle cx="515.2" cy="442.3" r="1.8"/><circle cx="513.4" cy="444.9" r="1.8"/><circle cx="512" cy="448.1" r="1.8"/><circle cx="503.3" cy="451.4" r="1.8"/><circle cx="511.3" cy="457.5" r="1.8"/><circle cx="512" cy="461.2" r="1.8"/><circle cx="510.3" cy="464.6" r="1.8"/><circle cx="509.4" cy="470.7" r="1.8"/><circle cx="506.8" cy="476.5" r="1.8"/><circle cx="505.9" cy="479.6" r="1.8"/><circle cx="504.5" cy="486.4" r="1.8"/><circle cx="505.9" cy="489.4" r="1.8"/><circle cx="504.2" cy="496.4" r="1.8"/><circle cx="501.9" cy="502.2" r="1.8"/><circle cx="500.1" cy="507.8" r="1.8"/><circle cx="509.9" cy="523.7" r="1.8"/><circle cx="499.3" cy="529.7" r="1.8"/><circle cx="497.2" cy="532.8" r="1.8"/><circle cx="494.9" cy="535.4" r="1.8"/><circle cx="496.3" cy="542.5" r="1.8"/><circle cx="494.5" cy="545.1" r="1.8"/><circle cx="494.5" cy="552.1" r="1.8"/><circle cx="493.3" cy="554.7" r="1.8"/><circle cx="496.6" cy="562.1" r="1.8"/></g>
<path d="M515.9 421.3C517.02 422.03 520.32 423.95 522.6 425.7C524.88 427.45 527.8 429.32 529.6 431.8C531.4 434.28 532.38 437.1 533.4 440.6C534.42 444.1 535.12 448.13 535.7 452.8C536.28 457.47 536.58 463.23 536.9 468.6C537.22 473.97 537.37 478.1 537.6 485C537.83 491.9 538.08 499.98 538.3 510C538.52 520.02 538.8 534.87 538.9 545.1C539 555.33 538.9 567.02 538.9 571.4" fill="none" stroke="#3b78bf" stroke-width="1.55" stroke-linecap="butt" stroke-linejoin="round"/>
<g fill="#3b78bf"><circle cx="515.9" cy="421.3" r="1.85"/><circle cx="525.7" cy="423.4" r="1.85"/><circle cx="531" cy="433.2" r="1.85"/><circle cx="529" cy="445.5" r="1.85"/><circle cx="535.2" cy="471.7" r="1.85"/><circle cx="535.2" cy="492.5" r="1.85"/><circle cx="540.1" cy="536" r="1.85"/><circle cx="538.7" cy="556.5" r="1.85"/></g>
<path d="M638.6 421.6C637.83 421.63 635 421.57 634 421.8C633 422.03 633.3 421.92 632.6 423C631.9 424.08 631.13 425.67 629.8 428.3C628.47 430.93 626.5 435 624.6 438.8C622.7 442.6 620.45 447.02 618.4 451.1C616.35 455.18 614.05 459.52 612.3 463.3C610.55 467.08 608.92 470.1 607.9 473.8C606.88 477.5 606.58 480.92 606.2 485.5C605.82 490.08 605.75 494.28 605.6 501.3C605.45 508.32 605.5 518.85 605.3 527.6C605.1 536.35 604.58 546.37 604.4 553.8C604.22 561.23 604.23 569.13 604.2 572.2" fill="none" stroke="#0fa05a" stroke-width="1.7" stroke-linecap="butt" stroke-linejoin="round"/>
<path d="M624.6 421.6C624.3 423 623.83 426.55 622.8 430C621.77 433.45 620 438.2 618.4 442.3C616.8 446.4 614.8 450.8 613.2 454.6C611.6 458.4 609.97 461.9 608.8 465.1C607.63 468.3 606.85 470.4 606.2 473.8C605.55 477.2 605.12 480.92 604.9 485.5C604.68 490.08 604.68 495.17 604.9 501.3C605.12 507.43 605.78 515 606.2 522.3C606.62 529.6 607.12 536.78 607.4 545.1C607.68 553.42 607.82 567.68 607.9 572.2" fill="none" stroke="#b5191f" stroke-width="1.7" stroke-linecap="butt" stroke-linejoin="round"/>
<text x="656.3" y="555.7" fill="#111" font-size="7.55" text-anchor="middle" font-weight="bold">NP_U1383E</text>
<rect x="22.2" y="607.5" width="304.9" height="150.3" fill="#d1d3d4"/>
<line x1="22.2" y1="600.1" x2="117.8" y2="600.1" stroke="#2a2a2a" stroke-width="0.55"/>
<line x1="26.6" y1="598.8" x2="26.6" y2="600.1" stroke="#2a2a2a" stroke-width="0.55"/>
<text x="26.6" y="597.8" fill="#1a1a1a" font-size="6.5" text-anchor="middle">0.0</text>
<line x1="48.3" y1="598.8" x2="48.3" y2="600.1" stroke="#2a2a2a" stroke-width="0.55"/>
<text x="48.3" y="597.8" fill="#1a1a1a" font-size="6.5" text-anchor="middle">0.5</text>
<line x1="70" y1="598.8" x2="70" y2="600.1" stroke="#2a2a2a" stroke-width="0.55"/>
<text x="70" y="597.8" fill="#1a1a1a" font-size="6.5" text-anchor="middle">1.0</text>
<line x1="91.6" y1="598.8" x2="91.6" y2="600.1" stroke="#2a2a2a" stroke-width="0.55"/>
<text x="91.6" y="597.8" fill="#1a1a1a" font-size="6.5" text-anchor="middle">1.5</text>
<line x1="113.3" y1="598.8" x2="113.3" y2="600.1" stroke="#2a2a2a" stroke-width="0.55"/>
<text x="113.3" y="597.8" fill="#1a1a1a" font-size="6.5" text-anchor="middle">2.0</text>
<line x1="128.1" y1="599.5" x2="224" y2="599.5" stroke="#f0757a" stroke-width="0.7"/>
<line x1="132.2" y1="598.2" x2="132.2" y2="599.5" stroke="#f0757a" stroke-width="0.7"/>
<text x="132.2" y="597.2" fill="#f0757a" font-size="6.5" text-anchor="middle">0</text>
<line x1="154" y1="598.2" x2="154" y2="599.5" stroke="#f0757a" stroke-width="0.7"/>
<text x="154" y="597.2" fill="#f0757a" font-size="6.5" text-anchor="middle">50</text>
<line x1="175.7" y1="598.2" x2="175.7" y2="599.5" stroke="#f0757a" stroke-width="0.7"/>
<text x="175.7" y="597.2" fill="#f0757a" font-size="6.5" text-anchor="middle">100</text>
<line x1="197.5" y1="598.2" x2="197.5" y2="599.5" stroke="#f0757a" stroke-width="0.7"/>
<text x="197.5" y="597.2" fill="#f0757a" font-size="6.5" text-anchor="middle">150</text>
<line x1="219.2" y1="598.2" x2="219.2" y2="599.5" stroke="#f0757a" stroke-width="0.7"/>
<text x="219.2" y="597.2" fill="#f0757a" font-size="6.5" text-anchor="middle">200</text>
<line x1="232" y1="599.9" x2="328.4" y2="599.9" stroke="#000" stroke-width="0.7"/>
<path d="M236.6 598.8v6.1M261.56 598.8v6.1M286.52 598.8v6.1M311.48 598.8v6.1" stroke="#000" stroke-width="0.8" fill="none"/>
<path d="M249.08 599.9v4.8M274.04 599.9v4.8M299 599.9v4.8M323.96 599.9v4.8" stroke="#333" stroke-width="0.7" fill="none"/>
<path d="M232.84 599.9v2.4M233.83 599.9v2.4M234.67 599.9v2.4M235.39 599.9v2.4M236.03 599.9v2.4M240.36 599.9v2.4M242.55 599.9v2.4M244.11 599.9v2.4M245.32 599.9v2.4M246.31 599.9v2.4M247.15 599.9v2.4M247.87 599.9v2.4M248.51 599.9v2.4M252.84 599.9v2.4M255.03 599.9v2.4M256.59 599.9v2.4M257.8 599.9v2.4M258.79 599.9v2.4M259.63 599.9v2.4M260.35 599.9v2.4M260.99 599.9v2.4M265.32 599.9v2.4M267.51 599.9v2.4M269.07 599.9v2.4M270.28 599.9v2.4M271.27 599.9v2.4M272.11 599.9v2.4M272.83 599.9v2.4M273.47 599.9v2.4M277.8 599.9v2.4M279.99 599.9v2.4M281.55 599.9v2.4M282.76 599.9v2.4M283.75 599.9v2.4M284.59 599.9v2.4M285.31 599.9v2.4M285.95 599.9v2.4M290.28 599.9v2.4M292.47 599.9v2.4M294.03 599.9v2.4M295.24 599.9v2.4M296.23 599.9v2.4M297.07 599.9v2.4M297.79 599.9v2.4M298.43 599.9v2.4M302.76 599.9v2.4M304.95 599.9v2.4M306.51 599.9v2.4M307.72 599.9v2.4M308.71 599.9v2.4M309.55 599.9v2.4M310.27 599.9v2.4M310.91 599.9v2.4M315.24 599.9v2.4M317.43 599.9v2.4M318.99 599.9v2.4M320.2 599.9v2.4M321.19 599.9v2.4M322.03 599.9v2.4M322.75 599.9v2.4M323.39 599.9v2.4M327.72 599.9v2.4" stroke="#111" stroke-width="0.5" fill="none"/>
<text x="237" y="597.1" fill="#1a1a1a" font-size="6.5" text-anchor="middle">–8</text>
<text x="261.96" y="597.1" fill="#1a1a1a" font-size="6.5" text-anchor="middle">–6</text>
<text x="286.92" y="597.1" fill="#1a1a1a" font-size="6.5" text-anchor="middle">–4</text>
<text x="311.88" y="597.1" fill="#1a1a1a" font-size="6.5" text-anchor="middle">–2</text>
<line x1="22.2" y1="600.1" x2="22.2" y2="766" stroke="#2a2a2a" stroke-width="0.6"/>
<line x1="20.5" y1="607.5" x2="22.2" y2="607.5" stroke="#2a2a2a" stroke-width="0.6"/>
<text x="19.2" y="609.85" fill="#1a1a1a" font-size="6.5" text-anchor="end">0</text>
<line x1="20.5" y1="632.67" x2="22.2" y2="632.67" stroke="#2a2a2a" stroke-width="0.6"/>
<text x="19.2" y="635.02" fill="#1a1a1a" font-size="6.5" text-anchor="end">5</text>
<line x1="20.5" y1="657.84" x2="22.2" y2="657.84" stroke="#2a2a2a" stroke-width="0.6"/>
<text x="19.2" y="660.19" fill="#1a1a1a" font-size="6.5" text-anchor="end">10</text>
<line x1="20.5" y1="683.01" x2="22.2" y2="683.01" stroke="#2a2a2a" stroke-width="0.6"/>
<text x="19.2" y="685.36" fill="#1a1a1a" font-size="6.5" text-anchor="end">15</text>
<line x1="20.5" y1="708.18" x2="22.2" y2="708.18" stroke="#2a2a2a" stroke-width="0.6"/>
<text x="19.2" y="710.53" fill="#1a1a1a" font-size="6.5" text-anchor="end">20</text>
<line x1="20.5" y1="733.35" x2="22.2" y2="733.35" stroke="#2a2a2a" stroke-width="0.6"/>
<text x="19.2" y="735.7" fill="#1a1a1a" font-size="6.5" text-anchor="end">25</text>
<line x1="20.5" y1="758.52" x2="22.2" y2="758.52" stroke="#2a2a2a" stroke-width="0.6"/>
<text x="19.2" y="760.87" fill="#1a1a1a" font-size="6.5" text-anchor="end">30</text>
<text transform="translate(9.2 678.9) rotate(-90)" fill="#111" font-size="6.5" font-weight="bold" text-anchor="middle" textLength="54" lengthAdjust="spacingAndGlyphs">Depth (meter bsf)</text>
<path d="M106.9 607.1C105.07 607.62 99.68 609.15 95.9 610.2C92.12 611.25 88.08 612.3 84.2 613.4C80.32 614.5 76.25 615.68 72.6 616.8C68.95 617.92 65.35 619 62.3 620.1C59.25 621.2 56.73 622.25 54.3 623.4C51.87 624.55 49.65 625.67 47.7 627C45.75 628.33 44.18 629.7 42.6 631.4C41.02 633.1 39.42 635.13 38.2 637.2C36.98 639.27 36.07 641.48 35.3 643.8C34.53 646.12 34.05 648.4 33.6 651.1C33.15 653.8 32.93 654.13 32.6 660C32.27 665.87 31.87 676.08 31.6 686.3C31.33 696.52 31.15 709.38 31 721.3C30.85 733.22 30.75 751.72 30.7 757.8" fill="none" stroke="#000" stroke-width="1.7" stroke-linecap="butt" stroke-linejoin="round"/>
<path d="M43.6 607.1C44.17 608.1 45.95 610.63 47 613.1C48.05 615.57 49.1 618.73 49.9 621.9C50.7 625.07 51.32 628.45 51.8 632.1C52.28 635.75 52.57 639.3 52.8 643.8C53.03 648.3 53.12 651.4 53.2 659.1C53.28 666.8 53.27 673.55 53.3 690C53.33 706.45 53.38 746.5 53.4 757.8" fill="none" stroke="#b5191f" stroke-width="1.7" stroke-linecap="butt" stroke-linejoin="round"/>
<path d="M196.5 607.5C194.6 608.32 189.05 610.57 185.1 612.4C181.15 614.23 176.3 616.45 172.8 618.5C169.3 620.55 166.58 622.5 164.1 624.7C161.62 626.9 159.43 629.22 157.9 631.7C156.37 634.18 155.68 636.53 154.9 639.6C154.12 642.67 153.72 646.6 153.2 650.1C152.68 653.6 152.12 657.28 151.8 660.6C151.48 663.92 151.6 667.18 151.3 670C151 672.82 150.35 671.87 150 677.5C149.65 683.13 149.4 690.42 149.2 703.8C149 717.18 148.87 748.8 148.8 757.8" fill="none" stroke="#f0757a" stroke-width="1.6" stroke-linecap="butt" stroke-linejoin="round"/>
<g fill="#f0757a"><circle cx="195.2" cy="607.5" r="1.8"/><circle cx="188.6" cy="607.5" r="1.8"/><circle cx="180.2" cy="607.7" r="1.8"/><circle cx="177.5" cy="609" r="1.8"/><circle cx="175" cy="610.3" r="1.8"/><circle cx="170.2" cy="612.8" r="1.8"/><circle cx="168.4" cy="613.8" r="1.8"/><circle cx="166.7" cy="615" r="1.8"/><circle cx="165" cy="616.3" r="1.8"/><circle cx="163.2" cy="617.7" r="1.8"/><circle cx="161.8" cy="619.5" r="1.8"/><circle cx="160.2" cy="622" r="1.8"/><circle cx="158.7" cy="624.2" r="1.8"/><circle cx="157.4" cy="626.4" r="1.8"/><circle cx="156.4" cy="628.8" r="1.8"/></g>
<g fill="#f0757a"><circle cx="156.71" cy="631.7" r="1.8"/><circle cx="155.7" cy="634.13" r="1.8"/><circle cx="155.03" cy="636.57" r="1.8"/><circle cx="153.81" cy="639" r="1.8"/><circle cx="153.52" cy="641.44" r="1.8"/><circle cx="153.04" cy="643.87" r="1.8"/><circle cx="152.49" cy="646.31" r="1.8"/><circle cx="152.32" cy="648.74" r="1.8"/><circle cx="151.73" cy="651.18" r="1.8"/><circle cx="151.6" cy="653.61" r="1.8"/><circle cx="151.09" cy="656.05" r="1.8"/><circle cx="150.78" cy="658.48" r="1.8"/><circle cx="150.65" cy="660.92" r="1.8"/><circle cx="150.72" cy="663.35" r="1.8"/><circle cx="150.24" cy="665.79" r="1.8"/><circle cx="150.16" cy="668.22" r="1.8"/><circle cx="150.15" cy="670.66" r="1.8"/><circle cx="149.89" cy="673.09" r="1.8"/><circle cx="149.28" cy="675.52" r="1.8"/><circle cx="148.83" cy="677.96" r="1.8"/><circle cx="149.05" cy="680.39" r="1.8"/><circle cx="148.51" cy="682.83" r="1.8"/><circle cx="148.84" cy="685.26" r="1.8"/><circle cx="148.48" cy="687.7" r="1.8"/><circle cx="148.34" cy="690.13" r="1.8"/><circle cx="148.25" cy="692.57" r="1.8"/><circle cx="148.27" cy="695" r="1.8"/><circle cx="148.45" cy="697.44" r="1.8"/><circle cx="148.06" cy="699.87" r="1.8"/><circle cx="148.19" cy="702.31" r="1.8"/><circle cx="148.16" cy="704.74" r="1.8"/><circle cx="148.01" cy="707.18" r="1.8"/><circle cx="148.09" cy="709.61" r="1.8"/><circle cx="147.83" cy="712.04" r="1.8"/><circle cx="147.81" cy="714.48" r="1.8"/><circle cx="147.87" cy="716.91" r="1.8"/><circle cx="148.09" cy="719.35" r="1.8"/><circle cx="147.95" cy="721.78" r="1.8"/><circle cx="147.88" cy="724.22" r="1.8"/><circle cx="148" cy="726.65" r="1.8"/><circle cx="147.92" cy="729.09" r="1.8"/><circle cx="147.82" cy="731.52" r="1.8"/><circle cx="148.06" cy="733.96" r="1.8"/><circle cx="147.99" cy="736.39" r="1.8"/><circle cx="147.75" cy="738.83" r="1.8"/><circle cx="147.9" cy="741.26" r="1.8"/><circle cx="147.86" cy="743.7" r="1.8"/><circle cx="148.02" cy="746.13" r="1.8"/><circle cx="147.93" cy="748.57" r="1.8"/><circle cx="147.69" cy="751" r="1.8"/></g>
<path d="M196.5 607.5C197.52 608.32 200.7 610.57 202.6 612.4C204.5 614.23 206.5 616.3 207.9 618.5C209.3 620.7 210.18 622.97 211 625.6C211.82 628.23 212.37 630.8 212.8 634.3C213.23 637.8 213.37 642.22 213.6 646.6C213.83 650.98 213.98 656.7 214.2 660.6C214.42 664.5 214.7 664.27 214.9 670C215.1 675.73 215.27 680.37 215.4 695C215.53 709.63 215.65 747.33 215.7 757.8" fill="none" stroke="#3b78bf" stroke-width="1.6" stroke-linecap="butt" stroke-linejoin="round"/>
<g fill="#3b78bf"><circle cx="201.7" cy="607.5" r="1.85"/><circle cx="203.5" cy="608.9" r="1.85"/><circle cx="206.1" cy="611.5" r="1.85"/><circle cx="208.7" cy="614.2" r="1.85"/><circle cx="210.5" cy="616.8" r="1.85"/><circle cx="212.2" cy="620.3" r="1.85"/><circle cx="212.8" cy="623.5" r="1.85"/></g>
<g fill="#3b78bf"><circle cx="210.97" cy="625.6" r="1.85"/><circle cx="210.3" cy="628.16" r="1.85"/><circle cx="211.25" cy="630.72" r="1.85"/><circle cx="212.25" cy="633.29" r="1.85"/><circle cx="211.71" cy="635.85" r="1.85"/><circle cx="212.35" cy="638.41" r="1.85"/><circle cx="211.89" cy="640.97" r="1.85"/><circle cx="212.94" cy="643.53" r="1.85"/><circle cx="213.24" cy="646.09" r="1.85"/><circle cx="213.09" cy="648.66" r="1.85"/><circle cx="213.62" cy="651.22" r="1.85"/><circle cx="212.95" cy="653.78" r="1.85"/><circle cx="213.59" cy="656.34" r="1.85"/><circle cx="213.56" cy="658.9" r="1.85"/><circle cx="213.68" cy="661.46" r="1.85"/><circle cx="213.69" cy="664.03" r="1.85"/><circle cx="214.42" cy="666.59" r="1.85"/><circle cx="214.76" cy="669.15" r="1.85"/><circle cx="214.2" cy="671.71" r="1.85"/><circle cx="214.52" cy="674.27" r="1.85"/><circle cx="213.72" cy="676.83" r="1.85"/><circle cx="214.67" cy="679.4" r="1.85"/><circle cx="214.65" cy="681.96" r="1.85"/><circle cx="215.18" cy="684.52" r="1.85"/><circle cx="214.99" cy="687.08" r="1.85"/><circle cx="214.29" cy="689.64" r="1.85"/><circle cx="214.48" cy="692.2" r="1.85"/><circle cx="214.93" cy="694.77" r="1.85"/><circle cx="214.04" cy="697.33" r="1.85"/><circle cx="214.67" cy="699.89" r="1.85"/><circle cx="214.26" cy="702.45" r="1.85"/><circle cx="214.2" cy="705.01" r="1.85"/><circle cx="214.13" cy="707.57" r="1.85"/><circle cx="215.13" cy="710.14" r="1.85"/><circle cx="214.25" cy="712.7" r="1.85"/><circle cx="214.43" cy="715.26" r="1.85"/><circle cx="214.64" cy="717.82" r="1.85"/><circle cx="215.32" cy="720.38" r="1.85"/><circle cx="214.22" cy="722.94" r="1.85"/><circle cx="214.75" cy="725.51" r="1.85"/><circle cx="214.9" cy="728.07" r="1.85"/><circle cx="215.38" cy="730.63" r="1.85"/><circle cx="215.3" cy="733.19" r="1.85"/><circle cx="215.37" cy="735.75" r="1.85"/><circle cx="214.56" cy="738.31" r="1.85"/><circle cx="214.76" cy="740.88" r="1.85"/><circle cx="214.69" cy="743.44" r="1.85"/><circle cx="215.44" cy="746" r="1.85"/></g>
<path d="M279.8 607C278.33 607.03 272.63 606.95 271 607.2C269.37 607.45 270.22 607.48 270 608.5C269.78 609.52 270.2 611.05 269.7 613.3C269.2 615.55 268.17 618.78 267 622C265.83 625.22 264.45 628.8 262.7 632.6C260.95 636.4 258.55 640.72 256.5 644.8C254.45 648.88 252.38 652.73 250.4 657.1C248.42 661.47 246.35 666.13 244.6 671C242.85 675.87 241.03 680.83 239.9 686.3C238.77 691.77 238.35 697.23 237.8 703.8C237.25 710.37 236.8 722.05 236.6 725.7" fill="none" stroke="#0fa05a" stroke-width="1.7" stroke-linecap="butt" stroke-linejoin="round"/>
<path d="M268.3 607C268.18 608.33 268.1 612.2 267.6 615C267.1 617.8 266.42 620.58 265.3 623.8C264.18 627.02 262.65 630.35 260.9 634.3C259.15 638.25 256.7 643.27 254.8 647.5C252.9 651.73 251.03 655.78 249.5 659.7C247.97 663.62 246.92 666.57 245.6 671C244.28 675.43 242.62 680.83 241.6 686.3C240.58 691.77 240.13 696.5 239.5 703.8C238.87 711.1 238.28 721.63 237.8 730.1C237.32 738.57 236.8 750.52 236.6 754.6" fill="none" stroke="#b5191f" stroke-width="1.7" stroke-linecap="butt" stroke-linejoin="round"/>
<text x="308.2" y="733.7" fill="#111" font-size="7.55" text-anchor="middle" font-weight="bold">NPG_11</text>
<rect x="378.7" y="607.5" width="304.6" height="95.1" fill="#d1d3d4"/>
<line x1="378.7" y1="600.1" x2="474.4" y2="600.1" stroke="#2a2a2a" stroke-width="0.55"/>
<line x1="383" y1="598.8" x2="383" y2="600.1" stroke="#2a2a2a" stroke-width="0.55"/>
<text x="383" y="597.8" fill="#1a1a1a" font-size="6.5" text-anchor="middle">0.00</text>
<line x1="404.7" y1="598.8" x2="404.7" y2="600.1" stroke="#2a2a2a" stroke-width="0.55"/>
<text x="404.7" y="597.8" fill="#1a1a1a" font-size="6.5" text-anchor="middle">0.25</text>
<line x1="426.4" y1="598.8" x2="426.4" y2="600.1" stroke="#2a2a2a" stroke-width="0.55"/>
<text x="426.4" y="597.8" fill="#1a1a1a" font-size="6.5" text-anchor="middle">0.50</text>
<line x1="448.1" y1="598.8" x2="448.1" y2="600.1" stroke="#2a2a2a" stroke-width="0.55"/>
<text x="448.1" y="597.8" fill="#1a1a1a" font-size="6.5" text-anchor="middle">0.75</text>
<line x1="469.8" y1="598.8" x2="469.8" y2="600.1" stroke="#2a2a2a" stroke-width="0.55"/>
<text x="469.8" y="597.8" fill="#1a1a1a" font-size="6.5" text-anchor="middle">1.00</text>
<line x1="481.9" y1="599.5" x2="577.7" y2="599.5" stroke="#f0757a" stroke-width="0.7"/>
<line x1="486.3" y1="598.2" x2="486.3" y2="599.5" stroke="#f0757a" stroke-width="0.7"/>
<text x="486.3" y="597.2" fill="#f0757a" font-size="6.5" text-anchor="middle">0</text>
<line x1="508.2" y1="598.2" x2="508.2" y2="599.5" stroke="#f0757a" stroke-width="0.7"/>
<text x="508.2" y="597.2" fill="#f0757a" font-size="6.5" text-anchor="middle">50</text>
<line x1="530.1" y1="598.2" x2="530.1" y2="599.5" stroke="#f0757a" stroke-width="0.7"/>
<text x="530.1" y="597.2" fill="#f0757a" font-size="6.5" text-anchor="middle">100</text>
<line x1="551.9" y1="598.2" x2="551.9" y2="599.5" stroke="#f0757a" stroke-width="0.7"/>
<text x="551.9" y="597.2" fill="#f0757a" font-size="6.5" text-anchor="middle">150</text>
<line x1="573.7" y1="598.2" x2="573.7" y2="599.5" stroke="#f0757a" stroke-width="0.7"/>
<text x="573.7" y="597.2" fill="#f0757a" font-size="6.5" text-anchor="middle">200</text>
<line x1="587.8" y1="599.9" x2="684.1" y2="599.9" stroke="#000" stroke-width="0.7"/>
<path d="M592.3 598.8v6.1M617.3 598.8v6.1M642.3 598.8v6.1M667.3 598.8v6.1" stroke="#000" stroke-width="0.8" fill="none"/>
<path d="M604.8 599.9v4.8M629.8 599.9v4.8M654.8 599.9v4.8M679.8 599.9v4.8" stroke="#333" stroke-width="0.7" fill="none"/>
<path d="M588.54 599.9v2.4M589.53 599.9v2.4M590.36 599.9v2.4M591.09 599.9v2.4M591.73 599.9v2.4M596.06 599.9v2.4M598.26 599.9v2.4M599.83 599.9v2.4M601.04 599.9v2.4M602.03 599.9v2.4M602.86 599.9v2.4M603.59 599.9v2.4M604.23 599.9v2.4M608.56 599.9v2.4M610.76 599.9v2.4M612.33 599.9v2.4M613.54 599.9v2.4M614.53 599.9v2.4M615.36 599.9v2.4M616.09 599.9v2.4M616.73 599.9v2.4M621.06 599.9v2.4M623.26 599.9v2.4M624.83 599.9v2.4M626.04 599.9v2.4M627.03 599.9v2.4M627.86 599.9v2.4M628.59 599.9v2.4M629.23 599.9v2.4M633.56 599.9v2.4M635.76 599.9v2.4M637.33 599.9v2.4M638.54 599.9v2.4M639.53 599.9v2.4M640.36 599.9v2.4M641.09 599.9v2.4M641.73 599.9v2.4M646.06 599.9v2.4M648.26 599.9v2.4M649.83 599.9v2.4M651.04 599.9v2.4M652.03 599.9v2.4M652.86 599.9v2.4M653.59 599.9v2.4M654.23 599.9v2.4M658.56 599.9v2.4M660.76 599.9v2.4M662.33 599.9v2.4M663.54 599.9v2.4M664.53 599.9v2.4M665.36 599.9v2.4M666.09 599.9v2.4M666.73 599.9v2.4M671.06 599.9v2.4M673.26 599.9v2.4M674.83 599.9v2.4M676.04 599.9v2.4M677.03 599.9v2.4M677.86 599.9v2.4M678.59 599.9v2.4M679.23 599.9v2.4M683.56 599.9v2.4" stroke="#111" stroke-width="0.5" fill="none"/>
<text x="592.7" y="597.1" fill="#1a1a1a" font-size="6.5" text-anchor="middle">–8</text>
<text x="617.7" y="597.1" fill="#1a1a1a" font-size="6.5" text-anchor="middle">–6</text>
<text x="642.7" y="597.1" fill="#1a1a1a" font-size="6.5" text-anchor="middle">–4</text>
<text x="667.7" y="597.1" fill="#1a1a1a" font-size="6.5" text-anchor="middle">–2</text>
<line x1="378.7" y1="600.1" x2="378.7" y2="766" stroke="#2a2a2a" stroke-width="0.6"/>
<line x1="377" y1="607.5" x2="378.7" y2="607.5" stroke="#2a2a2a" stroke-width="0.6"/>
<text x="375.7" y="609.85" fill="#1a1a1a" font-size="6.5" text-anchor="end">0</text>
<line x1="377" y1="629.07" x2="378.7" y2="629.07" stroke="#2a2a2a" stroke-width="0.6"/>
<text x="375.7" y="631.42" fill="#1a1a1a" font-size="6.5" text-anchor="end">10</text>
<line x1="377" y1="650.64" x2="378.7" y2="650.64" stroke="#2a2a2a" stroke-width="0.6"/>
<text x="375.7" y="652.99" fill="#1a1a1a" font-size="6.5" text-anchor="end">20</text>
<line x1="377" y1="672.21" x2="378.7" y2="672.21" stroke="#2a2a2a" stroke-width="0.6"/>
<text x="375.7" y="674.56" fill="#1a1a1a" font-size="6.5" text-anchor="end">30</text>
<line x1="377" y1="693.78" x2="378.7" y2="693.78" stroke="#2a2a2a" stroke-width="0.6"/>
<text x="375.7" y="696.13" fill="#1a1a1a" font-size="6.5" text-anchor="end">40</text>
<line x1="377" y1="715.35" x2="378.7" y2="715.35" stroke="#2a2a2a" stroke-width="0.6"/>
<text x="375.7" y="717.7" fill="#1a1a1a" font-size="6.5" text-anchor="end">50</text>
<line x1="377" y1="736.92" x2="378.7" y2="736.92" stroke="#2a2a2a" stroke-width="0.6"/>
<text x="375.7" y="739.27" fill="#1a1a1a" font-size="6.5" text-anchor="end">60</text>
<line x1="377" y1="758.49" x2="378.7" y2="758.49" stroke="#2a2a2a" stroke-width="0.6"/>
<text x="375.7" y="760.84" fill="#1a1a1a" font-size="6.5" text-anchor="end">70</text>
<text transform="translate(365.6 678.9) rotate(-90)" fill="#111" font-size="6.5" font-weight="bold" text-anchor="middle" textLength="54" lengthAdjust="spacingAndGlyphs">Depth (meter bsf)</text>
<path d="M408.4 607.2C407.82 608.8 406.2 613.15 404.9 616.8C403.6 620.45 402.02 624.72 400.6 629.1C399.18 633.48 397.67 638.73 396.4 643.1C395.13 647.47 394.02 650.82 393 655.3C391.98 659.78 391.07 665.22 390.3 670C389.53 674.78 388.97 679.25 388.4 684C387.83 688.75 387.42 692.28 386.9 698.5C386.38 704.72 385.73 713.7 385.3 721.3C384.87 728.9 384.57 738.12 384.3 744.1C384.03 750.08 383.8 755.02 383.7 757.2" fill="none" stroke="#000" stroke-width="1.7" stroke-linecap="butt" stroke-linejoin="round"/>
<path d="M422.5 607.2C423.23 608.5 425.43 611.93 426.9 615C428.37 618.07 430 622.08 431.3 625.6C432.6 629.12 433.68 632.45 434.7 636.1C435.72 639.75 436.6 643.72 437.4 647.5C438.2 651.28 438.87 655.05 439.5 658.8C440.13 662.55 440.67 666.13 441.2 670C441.73 673.87 442.12 676.37 442.7 682C443.28 687.63 444.18 695.78 444.7 703.8C445.22 711.82 445.57 721.1 445.8 730.1C446.03 739.1 446.05 753.18 446.1 757.8" fill="none" stroke="#b5191f" stroke-width="1.7" stroke-linecap="butt" stroke-linejoin="round"/>
<g fill="#000"><circle cx="404.9" cy="607.2" r="1.9"/><circle cx="401.4" cy="607.2" r="1.9"/><circle cx="397.6" cy="607.7" r="1.9"/><circle cx="393.2" cy="608.9" r="1.9"/><circle cx="391.8" cy="611.2" r="1.9"/><circle cx="390.9" cy="614.2" r="1.9"/><circle cx="389.5" cy="617.7" r="1.9"/><circle cx="388.6" cy="620.3" r="1.9"/><circle cx="387.4" cy="623.4" r="1.9"/><circle cx="387.4" cy="626" r="1.9"/><circle cx="386.5" cy="630.8" r="1.9"/><circle cx="386.2" cy="634.3" r="1.9"/><circle cx="385.7" cy="636.9" r="1.9"/><circle cx="384.8" cy="643.9" r="1.9"/><circle cx="384.8" cy="650.6" r="1.9"/><circle cx="383.9" cy="657.1" r="1.9"/><circle cx="385.7" cy="663.9" r="1.9"/><circle cx="384.8" cy="670.5" r="1.9"/><circle cx="384.4" cy="677.2" r="1.9"/><circle cx="384.4" cy="686.6" r="1.9"/><circle cx="384.8" cy="692.1" r="1.9"/><circle cx="383.9" cy="698.2" r="1.9"/><circle cx="384.8" cy="705.5" r="1.9"/><circle cx="384.8" cy="709.9" r="1.9"/><circle cx="383.9" cy="715.7" r="1.9"/><circle cx="384.4" cy="726.2" r="1.9"/><circle cx="383.6" cy="731.8" r="1.9"/><circle cx="383.6" cy="737.9" r="1.9"/><circle cx="382.7" cy="740.9" r="1.9"/><circle cx="384.8" cy="743.2" r="1.9"/><circle cx="384.4" cy="746.7" r="1.9"/><circle cx="385.7" cy="751.1" r="1.9"/><circle cx="383.6" cy="753.7" r="1.9"/><circle cx="383.9" cy="756.4" r="1.9"/></g>
<g fill="#b5191f"><circle cx="419.8" cy="607.7" r="1.8"/><circle cx="423.3" cy="608" r="1.8"/><circle cx="420.7" cy="610.1" r="1.8"/><circle cx="426" cy="611.5" r="1.8"/><circle cx="420.7" cy="612.9" r="1.8"/><circle cx="426.8" cy="615" r="1.8"/><circle cx="427.7" cy="617.7" r="1.8"/><circle cx="429.5" cy="620" r="1.8"/><circle cx="432.1" cy="622" r="1.8"/><circle cx="428.6" cy="625.6" r="1.8"/><circle cx="426.3" cy="628.2" r="1.8"/><circle cx="430.3" cy="631.3" r="1.8"/><circle cx="425.6" cy="634.7" r="1.8"/><circle cx="426.8" cy="637.8" r="1.8"/><circle cx="425.6" cy="642.2" r="1.8"/><circle cx="422.5" cy="645.2" r="1.8"/><circle cx="420.2" cy="648.3" r="1.8"/><circle cx="420.3" cy="651" r="1.8"/><circle cx="420.2" cy="653.6" r="1.8"/><circle cx="419.5" cy="656.2" r="1.8"/><circle cx="418.4" cy="658" r="1.8"/><circle cx="414.6" cy="662.7" r="1.8"/><circle cx="412.8" cy="666.1" r="1.8"/><circle cx="414.6" cy="669.3" r="1.8"/><circle cx="409.7" cy="672.3" r="1.8"/><circle cx="414.6" cy="675.8" r="1.8"/><circle cx="408.8" cy="677.5" r="1.8"/><circle cx="407.6" cy="683.7" r="1.8"/><circle cx="404.1" cy="686.3" r="1.8"/><circle cx="409.8" cy="689.4" r="1.8"/><circle cx="404.9" cy="690.7" r="1.8"/><circle cx="409" cy="692.4" r="1.8"/><circle cx="400.6" cy="693.8" r="1.8"/><circle cx="406.2" cy="695.9" r="1.8"/><circle cx="398.3" cy="697.3" r="1.8"/><circle cx="396.5" cy="698.9" r="1.8"/><circle cx="401.4" cy="700.3" r="1.8"/><circle cx="399.3" cy="703.8" r="1.8"/><circle cx="393.5" cy="706.8" r="1.8"/><circle cx="392.3" cy="709.6" r="1.8"/><circle cx="389.5" cy="711.7" r="1.8"/></g>
<path d="M542.7 607.5C541.68 608.32 539.08 610.27 536.6 612.4C534.12 614.53 530.72 617.38 527.8 620.3C524.88 623.22 521.87 626.55 519.1 629.9C516.33 633.25 513.68 636.75 511.2 640.4C508.72 644.05 506.4 648.15 504.2 651.8C502 655.45 499.75 659.27 498 662.3C496.25 665.33 494.87 668.05 493.7 670C492.53 671.95 491.88 670.42 491 674C490.12 677.58 489.07 685.07 488.4 691.5C487.73 697.93 487.35 704.72 487 712.6C486.65 720.48 486.42 731.27 486.3 738.8C486.18 746.33 486.3 754.63 486.3 757.8" fill="none" stroke="#f0757a" stroke-width="1.6" stroke-linecap="butt" stroke-linejoin="round"/>
<g fill="#f0757a"><circle cx="544.87" cy="607.03" r="1.8"/><circle cx="537.6" cy="607.88" r="1.8"/><circle cx="543.24" cy="608.54" r="1.8"/><circle cx="540.65" cy="609.02" r="1.8"/><circle cx="536.28" cy="610.51" r="1.8"/><circle cx="540.43" cy="610.49" r="1.8"/><circle cx="540.26" cy="611.52" r="1.8"/><circle cx="539.52" cy="612.33" r="1.8"/><circle cx="535.95" cy="612.98" r="1.8"/><circle cx="535.89" cy="613.32" r="1.8"/><circle cx="537.97" cy="614.22" r="1.8"/><circle cx="536" cy="615.08" r="1.8"/><circle cx="537.05" cy="614.86" r="1.8"/><circle cx="534.72" cy="616.47" r="1.8"/><circle cx="530.85" cy="616.75" r="1.8"/><circle cx="532.02" cy="617.86" r="1.8"/><circle cx="530.92" cy="618.03" r="1.8"/><circle cx="529.82" cy="618.34" r="1.8"/><circle cx="530.69" cy="618.77" r="1.8"/><circle cx="529.59" cy="619.61" r="1.8"/><circle cx="528.07" cy="620.94" r="1.8"/><circle cx="528.99" cy="621.03" r="1.8"/><circle cx="525.46" cy="621.76" r="1.8"/><circle cx="525.82" cy="622.02" r="1.8"/><circle cx="524.63" cy="623.53" r="1.8"/><circle cx="525.36" cy="623.97" r="1.8"/><circle cx="523.99" cy="625.09" r="1.8"/><circle cx="524.36" cy="624.75" r="1.8"/><circle cx="523.13" cy="625.87" r="1.8"/><circle cx="520.33" cy="626.94" r="1.8"/><circle cx="520.14" cy="627.42" r="1.8"/><circle cx="521.48" cy="628.43" r="1.8"/><circle cx="518.11" cy="628.75" r="1.8"/><circle cx="521.74" cy="629.32" r="1.8"/><circle cx="517.53" cy="629.28" r="1.8"/><circle cx="519.48" cy="630.03" r="1.8"/><circle cx="519.75" cy="630.83" r="1.8"/><circle cx="519.79" cy="631.38" r="1.8"/><circle cx="520.2" cy="632.89" r="1.8"/><circle cx="517.75" cy="633.3" r="1.8"/><circle cx="515.78" cy="633.5" r="1.8"/><circle cx="516.8" cy="634.36" r="1.8"/><circle cx="516.14" cy="634.78" r="1.8"/><circle cx="515.63" cy="636.28" r="1.8"/><circle cx="517.08" cy="636.07" r="1.8"/><circle cx="514.69" cy="637.59" r="1.8"/><circle cx="512.96" cy="637.09" r="1.8"/><circle cx="514.32" cy="638.21" r="1.8"/><circle cx="509.97" cy="638.65" r="1.8"/><circle cx="511.54" cy="639.67" r="1.8"/><circle cx="512.42" cy="639.82" r="1.8"/><circle cx="510.71" cy="640.85" r="1.8"/><circle cx="511.71" cy="641.39" r="1.8"/><circle cx="509.75" cy="641.96" r="1.8"/><circle cx="507.4" cy="643.24" r="1.8"/><circle cx="509.5" cy="643.79" r="1.8"/><circle cx="508.54" cy="644.12" r="1.8"/><circle cx="505.01" cy="644.7" r="1.8"/><circle cx="509.26" cy="645.84" r="1.8"/><circle cx="506.9" cy="646.4" r="1.8"/><circle cx="510.32" cy="647.35" r="1.8"/><circle cx="508.85" cy="647.69" r="1.8"/><circle cx="507.16" cy="647.76" r="1.8"/><circle cx="503.98" cy="648.88" r="1.8"/><circle cx="502.59" cy="649.87" r="1.8"/><circle cx="505.16" cy="650.55" r="1.8"/><circle cx="501.7" cy="651.04" r="1.8"/><circle cx="503.65" cy="651.71" r="1.8"/><circle cx="504.42" cy="651.69" r="1.8"/><circle cx="504.85" cy="652.62" r="1.8"/><circle cx="505.44" cy="653.51" r="1.8"/><circle cx="504.33" cy="654.25" r="1.8"/><circle cx="501.79" cy="654.74" r="1.8"/><circle cx="501.72" cy="654.82" r="1.8"/><circle cx="503.42" cy="656.07" r="1.8"/><circle cx="499.82" cy="656.77" r="1.8"/><circle cx="501.54" cy="657.67" r="1.8"/><circle cx="500.83" cy="657.74" r="1.8"/><circle cx="500.93" cy="658.97" r="1.8"/><circle cx="500.61" cy="659" r="1.8"/><circle cx="499.1" cy="660" r="1.8"/><circle cx="494.24" cy="660.52" r="1.8"/><circle cx="495.68" cy="661.64" r="1.8"/><circle cx="498.35" cy="662.12" r="1.8"/><circle cx="497.26" cy="662.21" r="1.8"/><circle cx="497.66" cy="662.99" r="1.8"/><circle cx="498.24" cy="664.03" r="1.8"/><circle cx="495.63" cy="664.02" r="1.8"/><circle cx="498.62" cy="665.46" r="1.8"/><circle cx="497.7" cy="666.14" r="1.8"/><circle cx="496.27" cy="666.59" r="1.8"/><circle cx="494.17" cy="667.18" r="1.8"/><circle cx="493.89" cy="668.35" r="1.8"/><circle cx="494.43" cy="668.18" r="1.8"/><circle cx="497.33" cy="668.62" r="1.8"/><circle cx="493.01" cy="669.8" r="1.8"/><circle cx="495.58" cy="670.45" r="1.8"/><circle cx="490.45" cy="670.89" r="1.8"/><circle cx="494.36" cy="671.47" r="1.8"/><circle cx="495.79" cy="672.57" r="1.8"/><circle cx="493.34" cy="673.68" r="1.8"/><circle cx="493.46" cy="673.35" r="1.8"/><circle cx="491.17" cy="674.91" r="1.8"/><circle cx="489.84" cy="675.35" r="1.8"/><circle cx="492.23" cy="675.74" r="1.8"/><circle cx="494.69" cy="675.84" r="1.8"/><circle cx="493.09" cy="677.01" r="1.8"/><circle cx="490.74" cy="677.49" r="1.8"/><circle cx="490.88" cy="678.16" r="1.8"/><circle cx="492.19" cy="679.45" r="1.8"/><circle cx="492.62" cy="680.1" r="1.8"/><circle cx="490.99" cy="679.9" r="1.8"/><circle cx="493.32" cy="681.49" r="1.8"/><circle cx="488.9" cy="681.41" r="1.8"/><circle cx="488.83" cy="682.92" r="1.8"/><circle cx="491.94" cy="683.09" r="1.8"/><circle cx="489.3" cy="683.36" r="1.8"/><circle cx="490.33" cy="683.75" r="1.8"/><circle cx="491.21" cy="684.69" r="1.8"/><circle cx="490.58" cy="686.13" r="1.8"/><circle cx="490.29" cy="686.27" r="1.8"/><circle cx="491.17" cy="686.54" r="1.8"/><circle cx="485.95" cy="688.03" r="1.8"/><circle cx="492.52" cy="688.6" r="1.8"/><circle cx="487.79" cy="689.41" r="1.8"/><circle cx="486.87" cy="689.6" r="1.8"/><circle cx="490" cy="690.48" r="1.8"/><circle cx="489.89" cy="690.8" r="1.8"/><circle cx="489.5" cy="691.25" r="1.8"/><circle cx="486.88" cy="691.63" r="1.8"/><circle cx="491.8" cy="692.79" r="1.8"/><circle cx="490" cy="693.29" r="1.8"/><circle cx="489.3" cy="694.71" r="1.8"/><circle cx="493.35" cy="694.5" r="1.8"/><circle cx="489.05" cy="695.52" r="1.8"/><circle cx="489.51" cy="695.98" r="1.8"/><circle cx="490.97" cy="696.41" r="1.8"/><circle cx="490.05" cy="697.9" r="1.8"/><circle cx="488.14" cy="698.56" r="1.8"/><circle cx="489.33" cy="699.33" r="1.8"/><circle cx="488.32" cy="699.02" r="1.8"/><circle cx="490.08" cy="699.55" r="1.8"/><circle cx="488.73" cy="700.39" r="1.8"/><circle cx="489.97" cy="701.07" r="1.8"/><circle cx="485.74" cy="702.31" r="1.8"/><circle cx="488.86" cy="702.56" r="1.8"/><circle cx="487.45" cy="703.18" r="1.8"/><circle cx="490.29" cy="703.79" r="1.8"/><circle cx="490.69" cy="705.2" r="1.8"/><circle cx="491.49" cy="704.84" r="1.8"/><circle cx="488.25" cy="706.39" r="1.8"/><circle cx="490.99" cy="706.27" r="1.8"/><circle cx="490.03" cy="707.14" r="1.8"/><circle cx="491.15" cy="707.85" r="1.8"/><circle cx="492.54" cy="709.02" r="1.8"/><circle cx="488.34" cy="708.66" r="1.8"/><circle cx="491.86" cy="710.36" r="1.8"/><circle cx="489.71" cy="710.51" r="1.8"/><circle cx="488.88" cy="711.07" r="1.8"/><circle cx="490.43" cy="712.37" r="1.8"/><circle cx="490.32" cy="713.08" r="1.8"/><circle cx="487.46" cy="712.87" r="1.8"/><circle cx="490.8" cy="713.85" r="1.8"/><circle cx="490.34" cy="714.7" r="1.8"/><circle cx="491.32" cy="715.32" r="1.8"/><circle cx="489" cy="716.11" r="1.8"/><circle cx="488.22" cy="715.9" r="1.8"/><circle cx="490.68" cy="717.45" r="1.8"/><circle cx="489.19" cy="717.94" r="1.8"/><circle cx="492.67" cy="718.18" r="1.8"/><circle cx="489.81" cy="719.24" r="1.8"/><circle cx="489.88" cy="719.97" r="1.8"/><circle cx="490.51" cy="720.42" r="1.8"/><circle cx="489.91" cy="721.14" r="1.8"/><circle cx="488.97" cy="721.82" r="1.8"/><circle cx="490.66" cy="721.77" r="1.8"/><circle cx="489.89" cy="723.57" r="1.8"/><circle cx="490.76" cy="723.84" r="1.8"/><circle cx="490.81" cy="724.01" r="1.8"/><circle cx="488.5" cy="724.68" r="1.8"/><circle cx="491.44" cy="725.41" r="1.8"/><circle cx="489.32" cy="725.72" r="1.8"/><circle cx="487.37" cy="726.86" r="1.8"/><circle cx="489.49" cy="727.32" r="1.8"/><circle cx="487.87" cy="727.94" r="1.8"/><circle cx="487.68" cy="728.36" r="1.8"/><circle cx="489.03" cy="729.8" r="1.8"/><circle cx="491.24" cy="729.87" r="1.8"/><circle cx="490.82" cy="730.9" r="1.8"/><circle cx="486.77" cy="731.19" r="1.8"/><circle cx="490.5" cy="732.59" r="1.8"/><circle cx="489.93" cy="732.54" r="1.8"/><circle cx="490.31" cy="733.27" r="1.8"/><circle cx="490.66" cy="734.71" r="1.8"/><circle cx="487.61" cy="734.5" r="1.8"/><circle cx="489.1" cy="735.39" r="1.8"/><circle cx="486.71" cy="735.72" r="1.8"/><circle cx="485.9" cy="736.67" r="1.8"/><circle cx="489.09" cy="737.02" r="1.8"/><circle cx="492.88" cy="737.57" r="1.8"/><circle cx="490.88" cy="739.24" r="1.8"/><circle cx="490.37" cy="739.88" r="1.8"/><circle cx="487.92" cy="740.6" r="1.8"/><circle cx="485.05" cy="740.53" r="1.8"/><circle cx="490.62" cy="741.69" r="1.8"/><circle cx="491.19" cy="741.49" r="1.8"/><circle cx="489.22" cy="742.55" r="1.8"/><circle cx="488.95" cy="743.16" r="1.8"/><circle cx="488.59" cy="743.75" r="1.8"/><circle cx="490.09" cy="744.5" r="1.8"/><circle cx="489.54" cy="745.89" r="1.8"/><circle cx="488.89" cy="745.63" r="1.8"/><circle cx="488.58" cy="747.03" r="1.8"/><circle cx="491.66" cy="747.22" r="1.8"/><circle cx="489.83" cy="747.8" r="1.8"/><circle cx="489.41" cy="749.11" r="1.8"/><circle cx="489.56" cy="749.74" r="1.8"/><circle cx="489.94" cy="749.36" r="1.8"/></g>
<g fill="#f0757a"><circle cx="540.5" cy="608" r="1.8"/><circle cx="543" cy="607.8" r="1.8"/><circle cx="539.7" cy="614.2" r="1.8"/><circle cx="530.1" cy="626.4" r="1.8"/><circle cx="534.5" cy="628.2" r="1.8"/><circle cx="526.9" cy="633.4" r="1.8"/><circle cx="516.1" cy="643.1" r="1.8"/><circle cx="498.6" cy="685.8" r="1.8"/><circle cx="500.7" cy="690.3" r="1.8"/><circle cx="495.9" cy="695.9" r="1.8"/><circle cx="512" cy="695.4" r="1.8"/><circle cx="505.9" cy="752.9" r="1.8"/><circle cx="495.5" cy="689" r="1.8"/></g>
<path d="M552.3 607.5C553.18 608.32 555.83 610.42 557.6 612.4C559.37 614.38 561.35 616.77 562.9 619.4C564.45 622.03 565.73 624.98 566.9 628.2C568.07 631.42 569.05 635.05 569.9 638.7C570.75 642.35 571.48 646.45 572 650.1C572.52 653.75 572.77 657.2 573 660.6C573.23 664 573.33 667.68 573.4 670.5C573.47 673.32 573.62 673.42 573.4 677.5C573.18 681.58 572.68 688.57 572.1 695C571.52 701.43 570.72 709.67 569.9 716.1C569.08 722.53 567.93 728.35 567.2 733.6C566.47 738.85 565.85 743.57 565.5 747.6C565.15 751.63 565.17 756.1 565.1 757.8" fill="none" stroke="#3b78bf" stroke-width="1.6" stroke-linecap="butt" stroke-linejoin="round"/>
<g fill="#3b78bf"><circle cx="552.14" cy="607.5" r="1.85"/><circle cx="554.64" cy="609.14" r="1.85"/><circle cx="556.33" cy="610.79" r="1.85"/><circle cx="556.79" cy="612.43" r="1.85"/><circle cx="558.03" cy="614.07" r="1.85"/><circle cx="559.32" cy="615.71" r="1.85"/><circle cx="562.11" cy="617.36" r="1.85"/><circle cx="562.16" cy="619" r="1.85"/><circle cx="563.91" cy="620.64" r="1.85"/><circle cx="564.93" cy="622.29" r="1.85"/><circle cx="564.67" cy="623.93" r="1.85"/><circle cx="565.3" cy="625.57" r="1.85"/><circle cx="567.28" cy="627.21" r="1.85"/><circle cx="567.3" cy="628.86" r="1.85"/><circle cx="567.13" cy="630.5" r="1.85"/><circle cx="568.42" cy="632.14" r="1.85"/><circle cx="568.17" cy="633.79" r="1.85"/><circle cx="568.56" cy="635.43" r="1.85"/><circle cx="568.54" cy="637.07" r="1.85"/><circle cx="570.36" cy="638.71" r="1.85"/><circle cx="570.95" cy="640.36" r="1.85"/><circle cx="570.75" cy="642" r="1.85"/><circle cx="571.61" cy="643.64" r="1.85"/><circle cx="570.26" cy="645.29" r="1.85"/><circle cx="570.94" cy="646.93" r="1.85"/><circle cx="571.67" cy="648.57" r="1.85"/><circle cx="572.83" cy="650.21" r="1.85"/><circle cx="572.98" cy="651.86" r="1.85"/><circle cx="572.12" cy="653.5" r="1.85"/><circle cx="572.03" cy="655.14" r="1.85"/><circle cx="572.51" cy="656.79" r="1.85"/><circle cx="572.78" cy="658.43" r="1.85"/><circle cx="573.72" cy="660.07" r="1.85"/><circle cx="572.48" cy="661.71" r="1.85"/><circle cx="573.67" cy="663.36" r="1.85"/><circle cx="573.63" cy="665" r="1.85"/></g>
<g fill="#3b78bf"><circle cx="573.4" cy="677.5" r="1.85"/><circle cx="572.1" cy="693.3" r="1.85"/><circle cx="567.6" cy="703.8" r="1.85"/></g>
<g fill="#3b78bf"><circle cx="572.94" cy="695" r="1.85"/><circle cx="572.64" cy="696.59" r="1.85"/><circle cx="572.05" cy="698.19" r="1.85"/><circle cx="571.15" cy="699.78" r="1.85"/><circle cx="570.97" cy="701.38" r="1.85"/><circle cx="570.91" cy="702.97" r="1.85"/><circle cx="571.84" cy="704.56" r="1.85"/><circle cx="569.84" cy="706.16" r="1.85"/><circle cx="569.98" cy="707.75" r="1.85"/><circle cx="571.26" cy="709.35" r="1.85"/><circle cx="569.78" cy="710.94" r="1.85"/><circle cx="569.14" cy="712.53" r="1.85"/><circle cx="568.89" cy="714.13" r="1.85"/><circle cx="570.08" cy="715.72" r="1.85"/><circle cx="569.26" cy="717.32" r="1.85"/><circle cx="570.72" cy="718.91" r="1.85"/><circle cx="570.22" cy="720.5" r="1.85"/><circle cx="570.24" cy="722.1" r="1.85"/><circle cx="568.12" cy="723.69" r="1.85"/><circle cx="567.4" cy="725.28" r="1.85"/><circle cx="567.19" cy="726.88" r="1.85"/><circle cx="567.99" cy="728.47" r="1.85"/><circle cx="568.29" cy="730.07" r="1.85"/><circle cx="567.36" cy="731.66" r="1.85"/><circle cx="566.56" cy="733.25" r="1.85"/><circle cx="566.83" cy="734.85" r="1.85"/><circle cx="567.17" cy="736.44" r="1.85"/><circle cx="567.11" cy="738.04" r="1.85"/><circle cx="567.11" cy="739.63" r="1.85"/><circle cx="567.18" cy="741.22" r="1.85"/><circle cx="566.51" cy="742.82" r="1.85"/><circle cx="564.9" cy="744.41" r="1.85"/><circle cx="566.58" cy="746.01" r="1.85"/><circle cx="564.96" cy="747.6" r="1.85"/></g>
<path d="M633.3 607.1 L606.2 607.4" fill="none" stroke="#0fa05a" stroke-width="1.7" stroke-linejoin="round"/>
<path d="M606.2 607.4C606.07 607.67 605.7 606.27 605.4 609C605.1 611.73 604.85 617.53 604.4 623.8C603.95 630.07 603.13 640.57 602.7 646.6C602.27 652.63 602.25 654.85 601.8 660C601.35 665.15 600.73 670.78 600 677.5C599.27 684.22 598.22 693.58 597.4 700.3C596.58 707.02 595.53 713.27 595.1 717.8C594.67 722.33 594.48 725.05 594.8 727.5C595.12 729.95 596.57 731.08 597 732.5C597.43 733.92 597.6 734.95 597.4 736C597.2 737.05 596.67 737.98 595.8 738.8C594.93 739.62 592.8 740.55 592.2 740.9" fill="none" stroke="#0fa05a" stroke-width="1.7" stroke-linecap="butt" stroke-linejoin="round"/>
<path d="M591.6 662.1C591.83 665.55 592.18 675.85 593 682.8C593.82 689.75 595.03 697.38 596.5 703.8C597.97 710.22 600.05 716.33 601.8 721.3C603.55 726.27 605.98 730.1 607 733.6C608.02 737.1 608.13 738.22 607.9 742.3C607.67 746.38 605.98 755.47 605.6 758.1" fill="none" stroke="#b5191f" stroke-width="1.7" stroke-linecap="butt" stroke-linejoin="round"/>
<text x="656.7" y="733.7" fill="#111" font-size="7.55" text-anchor="middle" font-weight="bold">SPG_U1370</text>
</svg>
</body></html>
